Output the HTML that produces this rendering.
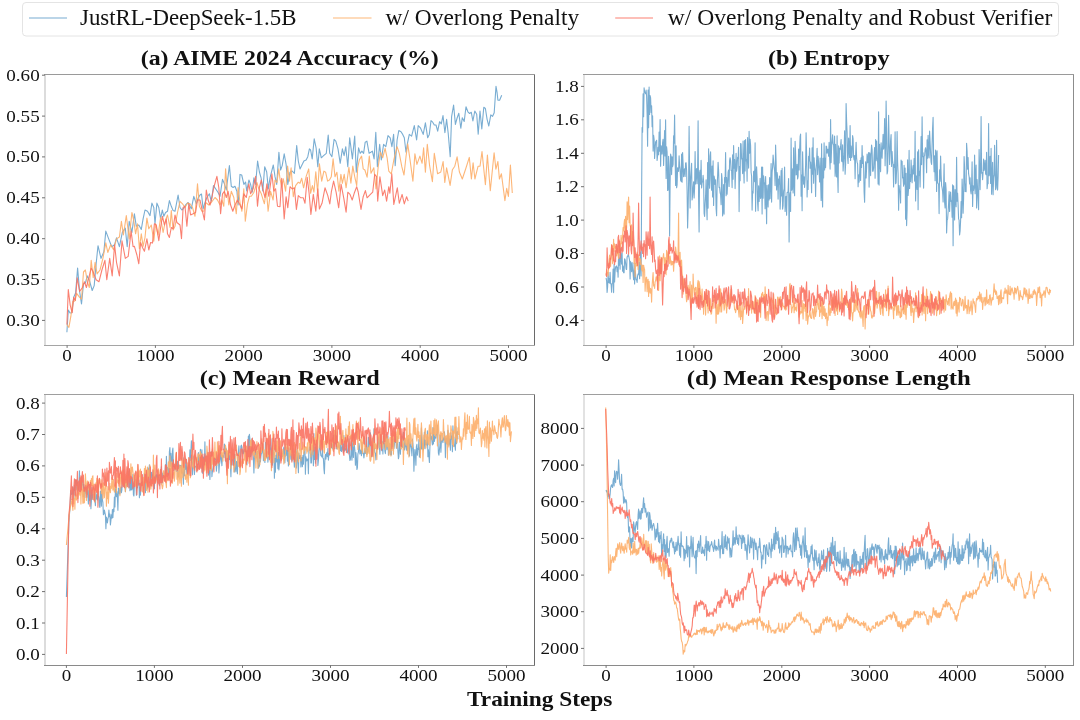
<!DOCTYPE html>
<html><head><meta charset="utf-8"><style>
html,body{margin:0;padding:0;background:#fff;width:1080px;height:720px;overflow:hidden;}
svg{display:block;will-change:transform;font-family:"Liberation Serif",serif;}
</style></head><body>
<svg width="1080" height="720" viewBox="0 0 1080 720" font-family="Liberation Serif, serif">
<rect width="1080" height="720" fill="#fff"/>
<defs>
<clipPath id="clipa"><rect x="45.0" y="74.5" width="489.4" height="270.8"/></clipPath>
<clipPath id="clipb"><rect x="584.0" y="74.5" width="489.6" height="270.8"/></clipPath>
<clipPath id="clipc"><rect x="45.0" y="394.4" width="489.4" height="270.9"/></clipPath>
<clipPath id="clipd"><rect x="584.0" y="394.4" width="489.6" height="270.9"/></clipPath>
</defs>
<path d="M66.9 332.3 L68.3 310.0 L70.0 313.0 L71.8 312.8 L73.7 297.3 L75.6 293.0 L77.6 268.1 L79.6 291.4 L81.5 304.0 L83.5 283.7 L85.4 283.0 L87.3 275.9 L89.3 280.0 L92.2 290.5 L94.2 285.6 L96.1 264.2 L98.0 245.7 L101.0 258.4 L103.9 251.6 L105.8 231.1 L108.7 238.9 L111.7 246.7 L114.6 244.7 L116.5 237.9 L119.4 246.7 L122.4 232.1 L125.3 228.2 L127.2 246.7 L129.2 221.4 L131.9 232.5 L134.4 213.8 L136.3 226.3 L138.8 225.0 L141.3 229.4 L143.1 218.8 L145.0 210.0 L147.5 211.3 L150.0 215.6 L151.9 203.1 L153.8 207.5 L155.0 223.8 L156.9 203.1 L158.8 207.5 L160.6 218.8 L162.3 210.0 L163.8 216.3 L165.6 212.5 L167.5 211.3 L169.4 200.6 L171.3 206.3 L173.1 210.6 L175.0 211.3 L178.1 195.0 L180.0 207.5 L181.9 210.0 L183.8 208.1 L185.6 205.0 L188.1 202.5 L191.3 208.8 L193.8 196.3 L196.3 203.8 L198.1 198.1 L200.0 195.0 L201.5 194.0 L203.1 208.8 L205.0 202.5 L206.9 197.5 L209.4 193.8 L211.3 201.3 L213.5 185.6 L215.6 188.8 L218.1 192.5 L220.0 196.3 L222.5 179.4 L224.4 183.8 L226.3 190.0 L229.4 165.6 L231.3 186.3 L233.1 187.5 L235.0 186.3 L236.9 191.3 L238.1 205.0 L240.0 174.4 L241.7 175.0 L243.9 184.4 L245.6 182.0 L246.7 191.0 L248.9 180.0 L250.6 184.4 L252.2 192.2 L253.9 177.8 L255.6 184.4 L257.6 161.0 L259.4 172.0 L261.1 177.8 L262.8 191.0 L264.7 166.7 L266.7 172.0 L268.3 188.9 L270.0 177.8 L273.3 165.0 L275.0 176.7 L276.7 184.4 L278.9 152.2 L280.6 170.0 L282.2 165.6 L284.2 153.9 L286.1 164.4 L287.8 184.4 L290.0 172.2 L292.2 171.1 L294.4 173.3 L296.7 145.6 L298.3 161.0 L300.0 168.9 L302.2 164.4 L303.9 161.0 L306.1 160.0 L307.8 156.7 L309.4 148.9 L310.6 150.0 L312.2 158.9 L314.2 138.9 L316.1 147.8 L317.8 166.7 L319.3 148.9 L321.3 157.8 L323.6 155.6 L326.3 153.3 L328.2 135.0 L329.7 153.3 L331.9 156.7 L334.1 139.4 L335.8 141.1 L338.0 148.9 L340.2 163.3 L342.4 148.9 L344.1 155.6 L345.8 146.7 L347.8 166.7 L349.7 137.8 L352.4 158.9 L354.7 136.1 L356.3 172.2 L358.6 147.8 L360.2 153.3 L361.9 151.1 L363.6 153.3 L365.2 142.2 L366.9 141.1 L369.1 153.3 L370.8 152.2 L372.4 151.1 L374.1 158.9 L375.8 132.2 L377.4 166.7 L379.7 144.4 L381.3 160.0 L383.6 144.4 L385.8 146.7 L388.0 135.6 L390.2 137.8 L391.9 146.7 L393.6 134.4 L395.2 165.6 L397.1 140.0 L398.8 130.6 L401.0 131.7 L402.7 134.4 L404.3 137.8 L406.0 152.2 L407.7 142.2 L409.3 134.4 L411.6 136.1 L414.3 125.6 L416.6 140.0 L418.2 125.6 L420.4 127.8 L423.2 134.4 L425.4 122.8 L427.7 137.8 L429.3 134.4 L431.0 120.6 L432.7 122.2 L434.3 125.0 L436.0 125.0 L437.7 131.1 L439.6 121.7 L441.3 123.9 L443.0 115.6 L444.9 132.8 L446.6 119.4 L448.2 133.3 L450.2 156.7 L451.6 116.7 L453.6 105.0 L455.4 124.4 L457.1 118.0 L458.8 113.3 L460.8 128.3 L462.3 117.7 L464.2 121.4 L466.0 106.8 L467.9 111.8 L469.6 113.5 L471.3 112.3 L472.9 121.0 L474.8 111.0 L476.7 114.3 L478.2 134.3 L480.0 111.0 L481.8 128.9 L483.8 107.3 L485.4 108.5 L487.1 119.3 L488.8 126.0 L490.8 114.8 L492.5 116.4 L494.2 112.7 L496.0 86.4 L497.1 92.7 L497.9 100.2 L499.6 100.2 L501.7 95.2" fill="none" stroke="#1f77b4" stroke-opacity="0.6" stroke-width="1.1" stroke-linejoin="round" clip-path="url(#clipa)"/>
<path d="M66.9 324.5 L68.9 327.4 L70.8 316.7 L72.8 301.2 L74.7 301.2 L76.6 293.4 L79.6 297.3 L81.5 299.2 L83.5 272.0 L85.4 270.0 L87.3 281.7 L89.3 287.5 L91.2 260.3 L93.2 277.8 L95.1 262.3 L97.1 273.9 L100.0 270.0 L102.9 258.4 L105.8 242.8 L107.8 252.5 L110.7 244.7 L113.6 249.6 L116.5 238.9 L119.4 237.0 L121.4 221.4 L123.4 235.0 L126.3 215.6 L129.2 238.9 L131.9 212.5 L133.7 220.0 L135.6 233.8 L137.5 223.8 L139.4 248.8 L141.3 233.8 L143.1 246.3 L145.0 237.5 L146.9 218.1 L148.8 228.8 L151.3 225.0 L153.8 241.3 L155.6 223.8 L156.9 230.0 L158.1 235.0 L160.6 217.5 L163.1 232.5 L165.6 220.0 L167.5 215.0 L170.0 227.5 L171.3 210.6 L173.1 230.0 L175.0 226.3 L177.5 212.5 L180.0 201.3 L182.5 203.8 L185.0 207.5 L187.5 203.1 L190.0 203.8 L192.5 207.5 L195.0 216.3 L197.5 183.8 L199.4 206.3 L201.9 211.3 L203.8 211.3 L205.6 202.5 L208.8 205.0 L211.3 202.5 L215.0 197.5 L217.5 200.0 L220.0 205.0 L221.9 200.0 L223.8 206.3 L225.6 168.8 L226.9 186.3 L228.8 205.0 L231.3 191.3 L233.8 197.5 L236.3 213.8 L238.1 187.5 L240.0 202.5 L241.9 211.3 L243.8 188.8 L245.3 221.3 L247.5 203.8 L249.4 196.3 L251.3 196.3 L253.8 192.5 L256.9 182.5 L258.8 188.8 L261.3 193.8 L264.4 203.8 L266.3 188.8 L268.1 211.3 L270.6 191.3 L273.1 200.0 L275.0 180.0 L276.9 182.5 L278.8 168.8 L280.0 178.9 L281.7 186.7 L283.3 178.9 L285.6 191.1 L287.6 166.1 L289.4 181.1 L291.1 167.8 L293.3 196.7 L295.6 185.6 L298.3 182.2 L300.0 183.3 L301.7 178.3 L303.6 187.8 L306.1 176.7 L308.7 168.9 L310.6 193.3 L312.4 185.6 L313.9 192.2 L315.8 171.7 L317.6 192.2 L319.4 163.9 L321.7 181.1 L323.9 171.1 L325.6 172.2 L327.6 181.1 L329.4 180.0 L331.3 176.7 L333.1 158.9 L335.0 176.7 L336.9 172.2 L338.9 191.1 L340.9 174.4 L342.4 183.3 L344.2 174.4 L346.1 187.8 L348.9 167.2 L350.9 183.3 L352.8 166.1 L354.7 176.7 L356.7 185.6 L357.7 167.8 L359.3 160.0 L361.6 156.1 L363.2 168.9 L364.9 170.0 L367.1 177.2 L369.3 156.1 L371.0 173.3 L373.8 167.8 L376.0 188.9 L378.2 166.7 L380.4 152.2 L382.7 157.8 L385.1 148.3 L387.1 157.8 L388.8 171.1 L391.3 173.9 L393.8 160.0 L397.1 146.7 L399.3 153.3 L401.8 166.7 L404.0 175.0 L406.0 156.7 L407.7 143.9 L409.9 158.9 L412.9 181.1 L414.9 153.9 L416.9 164.4 L419.9 156.1 L422.1 163.3 L423.6 147.8 L425.4 172.2 L427.3 144.4 L429.6 165.6 L432.4 181.7 L434.3 153.3 L437.6 173.8 L440.8 172.0 L443.1 161.5 L444.8 182.5 L446.6 167.9 L450.1 185.4 L452.4 169.7 L454.8 166.2 L457.1 156.8 L459.4 172.0 L462.3 179.0 L465.8 168.5 L469.3 157.4 L471.4 179.0 L473.1 162.7 L474.9 179.0 L478.1 166.2 L480.0 166.2 L482.0 151.6 L485.4 184.8 L487.4 155.1 L490.3 190.7 L494.1 152.8 L495.9 169.1 L497.9 161.5 L499.4 179.0 L501.4 173.8 L504.9 200.6 L506.7 188.3 L508.4 196.5 L510.4 165.0 L512.3 193.0" fill="none" stroke="#fdae69" stroke-opacity="0.9" stroke-width="1.1" stroke-linejoin="round" clip-path="url(#clipa)"/>
<path d="M66.9 324.5 L68.3 289.5 L70.2 305.1 L72.2 312.8 L73.7 297.3 L75.4 300.5 L77.2 277.8 L79.6 291.4 L82.5 287.5 L84.4 281.7 L86.4 287.5 L88.3 279.8 L91.2 268.1 L93.2 272.0 L96.1 279.8 L99.0 281.7 L101.9 270.0 L104.9 260.3 L106.8 279.8 L109.7 258.4 L112.2 275.9 L114.6 244.7 L116.5 262.3 L119.4 275.9 L122.0 240.9 L125.3 258.4 L128.2 256.4 L131.1 231.1 L133.1 246.7 L134.4 246.3 L136.9 255.0 L138.8 263.8 L140.6 242.5 L142.5 247.5 L144.4 251.3 L146.9 238.8 L148.8 250.0 L150.6 242.5 L152.5 243.1 L154.4 223.8 L156.3 225.0 L158.8 240.6 L160.6 227.5 L162.5 216.3 L164.4 225.0 L166.3 218.8 L167.5 233.8 L169.4 237.5 L171.3 227.5 L173.1 228.8 L175.0 215.0 L176.9 222.5 L180.0 225.0 L181.5 238.8 L183.1 207.5 L185.0 206.3 L186.9 226.3 L188.8 203.8 L190.6 215.0 L193.1 213.8 L195.6 212.5 L197.5 200.0 L200.0 200.0 L201.9 208.8 L204.4 220.0 L206.3 190.0 L208.1 200.0 L210.0 205.0 L211.9 197.5 L213.8 187.5 L216.9 176.3 L218.8 187.5 L220.6 213.8 L222.5 193.8 L224.4 191.3 L226.3 197.5 L228.1 191.3 L230.6 205.0 L232.8 211.3 L235.0 205.0 L237.5 200.0 L240.0 205.0 L241.9 208.8 L243.8 193.8 L246.3 197.5 L248.8 183.8 L250.6 193.8 L253.1 188.8 L255.6 176.3 L257.5 206.3 L259.4 187.5 L261.3 180.0 L263.1 190.0 L265.0 197.5 L266.9 183.8 L268.8 196.3 L271.9 173.8 L273.8 191.3 L275.6 188.8 L277.5 206.3 L280.0 206.7 L281.7 178.3 L284.2 218.9 L286.1 196.7 L287.8 207.8 L290.0 186.7 L292.2 188.9 L294.4 187.8 L296.4 209.4 L298.3 195.6 L300.8 197.8 L303.3 197.8 L305.0 203.3 L307.2 177.2 L309.1 193.3 L310.9 214.4 L313.3 194.4 L315.8 211.1 L317.8 188.9 L319.4 208.9 L322.0 203.3 L325.0 187.8 L327.8 195.6 L329.8 203.9 L331.3 192.2 L333.6 181.1 L336.1 192.2 L338.7 207.8 L341.1 184.4 L343.9 198.9 L346.1 212.2 L347.8 192.2 L350.0 194.4 L352.2 200.0 L354.2 193.3 L356.7 186.7 L358.2 192.0 L361.0 209.4 L363.2 196.7 L365.4 190.6 L367.1 197.8 L370.4 194.4 L372.7 192.2 L374.7 174.4 L376.6 176.7 L377.7 201.1 L379.9 176.7 L382.7 195.6 L384.7 190.0 L386.6 201.1 L388.8 186.7 L389.9 193.3 L391.8 173.9 L393.8 204.4 L397.3 187.8 L399.3 203.3 L402.1 194.4 L404.3 203.9 L406.6 196.7 L408.2 201.1" fill="none" stroke="#f97262" stroke-opacity="0.9" stroke-width="1.1" stroke-linejoin="round" clip-path="url(#clipa)"/>
<rect x="44" y="74" width="2" height="272" fill="#dcdcdc"/>
<rect x="534" y="74" width="1" height="272" fill="#6a6a6a"/>
<rect x="44" y="74" width="491" height="1" fill="#9a9a9a"/>
<rect x="44" y="345" width="491" height="1" fill="#a5a5a5"/>
<line x1="67.1" y1="345.3" x2="67.1" y2="347.9" stroke="#707070" stroke-width="1"/>
<text x="67.1" y="360.7" font-size="16.4" text-anchor="middle" textLength="9.5" lengthAdjust="spacingAndGlyphs" fill="#111">0</text>
<line x1="155.4" y1="345.3" x2="155.4" y2="347.9" stroke="#707070" stroke-width="1"/>
<text x="155.4" y="360.7" font-size="16.4" text-anchor="middle" textLength="38.2" lengthAdjust="spacingAndGlyphs" fill="#111">1000</text>
<line x1="243.7" y1="345.3" x2="243.7" y2="347.9" stroke="#707070" stroke-width="1"/>
<text x="243.7" y="360.7" font-size="16.4" text-anchor="middle" textLength="38.2" lengthAdjust="spacingAndGlyphs" fill="#111">2000</text>
<line x1="331.9" y1="345.3" x2="331.9" y2="347.9" stroke="#707070" stroke-width="1"/>
<text x="331.9" y="360.7" font-size="16.4" text-anchor="middle" textLength="38.2" lengthAdjust="spacingAndGlyphs" fill="#111">3000</text>
<line x1="420.2" y1="345.3" x2="420.2" y2="347.9" stroke="#707070" stroke-width="1"/>
<text x="420.2" y="360.7" font-size="16.4" text-anchor="middle" textLength="38.2" lengthAdjust="spacingAndGlyphs" fill="#111">4000</text>
<line x1="508.5" y1="345.3" x2="508.5" y2="347.9" stroke="#707070" stroke-width="1"/>
<text x="508.5" y="360.7" font-size="16.4" text-anchor="middle" textLength="38.2" lengthAdjust="spacingAndGlyphs" fill="#111">5000</text>
<line x1="42.0" y1="320.4" x2="45.0" y2="320.4" stroke="#707070" stroke-width="1"/>
<text x="39.7" y="325.9" font-size="16.4" text-anchor="end" textLength="33.4" lengthAdjust="spacingAndGlyphs" fill="#111">0.30</text>
<line x1="42.0" y1="279.5" x2="45.0" y2="279.5" stroke="#707070" stroke-width="1"/>
<text x="39.7" y="285.0" font-size="16.4" text-anchor="end" textLength="33.4" lengthAdjust="spacingAndGlyphs" fill="#111">0.35</text>
<line x1="42.0" y1="238.7" x2="45.0" y2="238.7" stroke="#707070" stroke-width="1"/>
<text x="39.7" y="244.2" font-size="16.4" text-anchor="end" textLength="33.4" lengthAdjust="spacingAndGlyphs" fill="#111">0.40</text>
<line x1="42.0" y1="197.8" x2="45.0" y2="197.8" stroke="#707070" stroke-width="1"/>
<text x="39.7" y="203.3" font-size="16.4" text-anchor="end" textLength="33.4" lengthAdjust="spacingAndGlyphs" fill="#111">0.45</text>
<line x1="42.0" y1="156.9" x2="45.0" y2="156.9" stroke="#707070" stroke-width="1"/>
<text x="39.7" y="162.4" font-size="16.4" text-anchor="end" textLength="33.4" lengthAdjust="spacingAndGlyphs" fill="#111">0.50</text>
<line x1="42.0" y1="116.1" x2="45.0" y2="116.1" stroke="#707070" stroke-width="1"/>
<text x="39.7" y="121.6" font-size="16.4" text-anchor="end" textLength="33.4" lengthAdjust="spacingAndGlyphs" fill="#111">0.55</text>
<line x1="42.0" y1="75.2" x2="45.0" y2="75.2" stroke="#707070" stroke-width="1"/>
<text x="39.7" y="80.7" font-size="16.4" text-anchor="end" textLength="33.4" lengthAdjust="spacingAndGlyphs" fill="#111">0.60</text>
<text x="289.7" y="65.0" font-size="21.5" text-anchor="middle" font-weight="bold" textLength="298.0" lengthAdjust="spacingAndGlyphs" fill="#111">(a) AIME 2024 Accuracy (%)</text>
<path d="M606.1 277.8 L606.6 280.8 L607.1 292.5 L607.6 286.9 L608.1 272.3 L608.6 282.6 L609.1 278.5 L609.6 283.3 L610.1 272.4 L610.6 283.7 L611.1 283.7 L611.6 292.3 L612.1 283.6 L612.6 283.1 L613.1 269.1 L613.6 292.6 L614.1 264.3 L614.6 282.0 L615.1 271.8 L615.6 266.8 L616.1 267.1 L616.6 265.9 L617.1 271.8 L617.6 267.2 L618.1 277.1 L618.6 253.3 L619.1 265.2 L619.6 258.0 L620.1 269.2 L620.6 247.3 L621.1 259.0 L621.6 264.1 L622.1 253.1 L622.6 271.3 L623.1 266.1 L623.6 272.7 L624.1 272.7 L624.6 258.8 L625.1 259.7 L625.6 263.3 L626.1 269.0 L626.6 269.5 L627.1 256.8 L627.6 256.7 L628.1 254.5 L628.6 255.4 L629.1 257.8 L629.6 260.5 L630.1 279.0 L630.6 261.6 L631.1 264.6 L631.6 271.6 L632.1 262.6 L632.6 269.2 L633.1 273.8 L633.6 279.7 L634.1 263.0 L634.6 283.9 L635.1 270.7 L635.6 274.2 L636.1 279.8 L636.6 279.7 L637.1 282.4 L637.6 275.7 L638.1 273.9 L638.6 274.7 L639.1 262.2 L639.6 278.7 L640.1 261.1 L640.6 252.1 L641.1 275.9 L641.6 197.2 L642.1 127.6 L642.6 132.3 L643.1 93.7 L643.6 116.8 L644.1 87.7 L644.6 91.9 L645.1 92.3 L645.6 93.8 L646.1 90.0 L646.6 96.2 L647.1 114.1 L647.6 146.2 L648.1 90.0 L648.6 127.8 L649.1 87.0 L649.6 114.5 L650.1 95.5 L650.6 97.8 L651.1 112.4 L651.6 105.8 L652.1 126.7 L652.6 115.9 L653.1 151.1 L653.6 135.4 L654.1 139.2 L654.6 158.4 L655.1 149.6 L655.6 141.7 L656.1 141.4 L656.6 140.3 L657.1 160.5 L657.6 155.6 L658.1 147.2 L658.6 154.8 L659.1 132.1 L659.6 151.1 L660.1 119.5 L660.6 166.2 L661.1 145.7 L661.6 148.1 L662.1 154.1 L662.6 142.7 L663.1 139.2 L663.6 165.5 L664.1 147.9 L664.6 130.5 L665.1 155.9 L665.6 119.8 L666.1 178.4 L666.6 146.9 L667.1 152.1 L667.6 190.5 L668.1 190.1 L668.6 156.3 L669.1 167.0 L669.6 236.0 L670.1 184.7 L670.6 154.0 L671.1 156.6 L671.6 174.6 L672.1 156.9 L672.6 166.6 L673.1 164.4 L673.6 135.7 L674.1 143.2 L674.6 115.1 L675.1 156.9 L675.6 185.5 L676.1 145.8 L676.6 187.8 L677.1 185.0 L677.6 167.7 L678.1 169.5 L678.6 171.4 L679.1 155.8 L679.6 165.8 L680.1 169.3 L680.6 180.2 L681.1 181.4 L681.6 154.0 L682.1 182.2 L682.6 152.6 L683.1 164.2 L683.6 176.8 L684.1 171.0 L684.6 168.7 L685.1 176.5 L685.6 163.0 L686.1 162.8 L686.6 170.7 L687.1 191.7 L687.6 228.0 L688.1 209.7 L688.6 181.3 L689.1 126.2 L689.6 171.5 L690.1 207.9 L690.6 179.4 L691.1 171.6 L691.6 163.3 L692.1 200.0 L692.6 195.2 L693.1 187.1 L693.6 181.7 L694.1 198.0 L694.6 187.9 L695.1 151.5 L695.6 183.9 L696.1 172.4 L696.6 168.6 L697.1 183.7 L697.6 171.5 L698.1 120.8 L698.6 199.0 L699.1 232.0 L699.6 172.5 L700.1 170.2 L700.6 184.2 L701.1 160.4 L701.6 188.0 L702.1 182.6 L702.6 181.8 L703.1 175.2 L703.6 181.6 L704.1 213.1 L704.6 216.5 L705.1 204.5 L705.6 195.4 L706.1 179.7 L706.6 206.3 L707.1 219.8 L707.6 162.6 L708.1 208.1 L708.6 148.8 L709.1 178.3 L709.6 188.3 L710.1 156.1 L710.6 151.7 L711.1 179.3 L711.6 190.2 L712.1 166.1 L712.6 197.0 L713.1 160.9 L713.6 205.4 L714.1 176.1 L714.6 179.1 L715.1 184.5 L715.6 179.7 L716.1 208.4 L716.6 215.8 L717.1 187.1 L717.6 176.5 L718.1 162.3 L718.6 170.5 L719.1 187.4 L719.6 187.2 L720.1 192.6 L720.6 194.6 L721.1 204.6 L721.6 173.6 L722.1 179.4 L722.6 215.9 L723.1 210.6 L723.6 184.5 L724.1 214.1 L724.6 177.5 L725.1 182.2 L725.6 152.5 L726.1 195.8 L726.6 177.6 L727.1 194.1 L727.6 185.2 L728.1 172.1 L728.6 170.0 L729.1 186.4 L729.6 160.3 L730.1 157.7 L730.6 160.7 L731.1 170.5 L731.6 170.7 L732.1 187.6 L732.6 154.7 L733.1 179.2 L733.6 145.5 L734.1 168.1 L734.6 159.6 L735.1 188.6 L735.6 171.1 L736.1 153.2 L736.6 171.2 L737.1 167.0 L737.6 157.2 L738.1 158.1 L738.6 147.3 L739.1 211.6 L739.6 166.5 L740.1 180.8 L740.6 143.5 L741.1 143.9 L741.6 159.0 L742.1 158.8 L742.6 173.6 L743.1 141.0 L743.6 167.5 L744.1 183.0 L744.6 140.6 L745.1 171.0 L745.6 139.5 L746.1 161.0 L746.6 159.7 L747.1 181.2 L747.6 137.5 L748.1 152.5 L748.6 168.1 L749.1 131.2 L749.6 153.3 L750.1 139.3 L750.6 145.8 L751.1 172.2 L751.6 176.2 L752.1 210.1 L752.6 191.4 L753.1 193.1 L753.6 171.5 L754.1 171.1 L754.6 181.7 L755.1 142.7 L755.6 211.3 L756.1 173.6 L756.6 166.7 L757.1 178.6 L757.6 202.6 L758.1 210.8 L758.6 185.7 L759.1 201.5 L759.6 193.6 L760.1 178.4 L760.6 198.5 L761.1 195.1 L761.6 167.1 L762.1 213.9 L762.6 167.1 L763.1 198.2 L763.6 175.8 L764.1 181.4 L764.6 184.3 L765.1 208.8 L765.6 176.5 L766.1 194.2 L766.6 223.7 L767.1 185.2 L767.6 196.7 L768.1 206.9 L768.6 184.8 L769.1 199.9 L769.6 177.5 L770.1 198.6 L770.6 184.7 L771.1 163.6 L771.6 202.1 L772.1 172.9 L772.6 166.7 L773.1 155.1 L773.6 161.1 L774.1 167.0 L774.6 170.7 L775.1 185.6 L775.6 145.1 L776.1 161.4 L776.6 190.0 L777.1 172.6 L777.6 176.3 L778.1 199.1 L778.6 179.1 L779.1 184.1 L779.6 176.1 L780.1 209.1 L780.6 199.1 L781.1 170.5 L781.6 195.9 L782.1 168.3 L782.6 209.1 L783.1 205.6 L783.6 191.2 L784.1 188.7 L784.6 167.1 L785.1 211.5 L785.6 199.4 L786.1 196.3 L786.6 215.3 L787.1 192.5 L787.6 192.4 L788.1 191.6 L788.6 178.5 L789.1 242.0 L789.6 196.8 L790.1 192.6 L790.6 211.5 L791.1 138.0 L791.6 190.3 L792.1 188.5 L792.6 168.9 L793.1 193.0 L793.6 147.9 L794.1 181.5 L794.6 195.8 L795.1 141.3 L795.6 154.1 L796.1 174.9 L796.6 174.4 L797.1 164.3 L797.6 179.0 L798.1 176.4 L798.6 149.1 L799.1 169.9 L799.6 150.5 L800.1 136.7 L800.6 134.1 L801.1 196.3 L801.6 175.0 L802.1 210.7 L802.6 151.8 L803.1 172.1 L803.6 184.1 L804.1 176.7 L804.6 187.5 L805.1 179.8 L805.6 165.4 L806.1 132.7 L806.6 154.4 L807.1 197.0 L807.6 181.0 L808.1 189.5 L808.6 156.3 L809.1 161.0 L809.6 148.0 L810.1 168.3 L810.6 162.0 L811.1 169.3 L811.6 192.8 L812.1 147.7 L812.6 174.3 L813.1 137.8 L813.6 183.3 L814.1 157.9 L814.6 167.0 L815.1 170.8 L815.6 196.4 L816.1 168.8 L816.6 160.9 L817.1 148.2 L817.6 174.6 L818.1 156.2 L818.6 162.7 L819.1 171.0 L819.6 181.9 L820.1 158.1 L820.6 181.7 L821.1 200.4 L821.6 143.8 L822.1 193.8 L822.6 206.9 L823.1 158.3 L823.6 177.9 L824.1 142.7 L824.6 169.9 L825.1 158.3 L825.6 167.6 L826.1 146.1 L826.6 146.6 L827.1 153.2 L827.6 149.3 L828.1 149.3 L828.6 156.3 L829.1 142.4 L829.6 157.2 L830.1 169.1 L830.6 119.6 L831.1 162.6 L831.6 147.3 L832.1 140.6 L832.6 134.9 L833.1 143.6 L833.6 145.1 L834.1 163.9 L834.6 136.1 L835.1 176.3 L835.6 144.2 L836.1 169.9 L836.6 176.9 L837.1 135.7 L837.6 174.5 L838.1 192.5 L838.6 145.9 L839.1 163.0 L839.6 148.3 L840.1 149.7 L840.6 145.9 L841.1 139.6 L841.6 161.1 L842.1 161.6 L842.6 144.9 L843.1 170.9 L843.6 161.4 L844.1 153.9 L844.6 130.8 L845.1 174.3 L845.6 164.1 L846.1 103.5 L846.6 121.1 L847.1 132.5 L847.6 157.3 L848.1 163.4 L848.6 138.1 L849.1 148.3 L849.6 157.4 L850.1 125.6 L850.6 160.4 L851.1 146.1 L851.6 157.5 L852.1 156.0 L852.6 135.5 L853.1 138.9 L853.6 157.0 L854.1 160.0 L854.6 155.5 L855.1 178.7 L855.6 155.7 L856.1 142.3 L856.6 158.1 L857.1 162.3 L857.6 163.9 L858.1 186.8 L858.6 174.8 L859.1 182.1 L859.6 173.6 L860.1 160.2 L860.6 180.4 L861.1 157.7 L861.6 167.5 L862.1 145.5 L862.6 163.5 L863.1 156.1 L863.6 166.8 L864.1 191.7 L864.6 202.3 L865.1 178.8 L865.6 161.9 L866.1 177.9 L866.6 168.1 L867.1 154.0 L867.6 162.8 L868.1 159.3 L868.6 152.6 L869.1 187.1 L869.6 152.7 L870.1 154.3 L870.6 175.6 L871.1 152.9 L871.6 145.0 L872.1 149.2 L872.6 171.2 L873.1 171.1 L873.6 168.1 L874.1 155.5 L874.6 147.5 L875.1 178.2 L875.6 139.5 L876.1 160.7 L876.6 141.0 L877.1 157.5 L877.6 161.6 L878.1 183.9 L878.6 111.9 L879.1 185.1 L879.6 144.3 L880.1 163.1 L880.6 171.6 L881.1 142.7 L881.6 152.1 L882.1 158.2 L882.6 145.8 L883.1 134.3 L883.6 149.1 L884.1 146.1 L884.6 118.6 L885.1 165.8 L885.6 147.8 L886.1 101.1 L886.6 129.3 L887.1 174.0 L887.6 171.4 L888.1 148.1 L888.6 115.3 L889.1 140.7 L889.6 164.4 L890.1 153.0 L890.6 140.6 L891.1 134.6 L891.6 166.5 L892.1 151.5 L892.6 161.2 L893.1 164.3 L893.6 187.0 L894.1 164.6 L894.6 167.4 L895.1 131.7 L895.6 183.8 L896.1 182.7 L896.6 169.4 L897.1 131.5 L897.6 161.6 L898.1 174.0 L898.6 210.3 L899.1 185.5 L899.6 191.0 L900.1 192.3 L900.6 203.0 L901.1 160.1 L901.6 163.9 L902.1 161.2 L902.6 178.0 L903.1 177.6 L903.6 186.1 L904.1 165.4 L904.6 184.1 L905.1 168.1 L905.6 219.3 L906.1 173.3 L906.6 225.6 L907.1 209.9 L907.6 159.7 L908.1 195.5 L908.6 188.5 L909.1 150.4 L909.6 188.4 L910.1 174.9 L910.6 181.4 L911.1 160.1 L911.6 172.3 L912.1 182.7 L912.6 170.3 L913.1 165.5 L913.6 174.0 L914.1 158.6 L914.6 181.1 L915.1 131.2 L915.6 200.9 L916.1 175.7 L916.6 183.7 L917.1 189.5 L917.6 151.7 L918.1 209.7 L918.6 149.8 L919.1 175.5 L919.6 171.3 L920.1 187.0 L920.6 162.3 L921.1 136.6 L921.6 164.6 L922.1 116.9 L922.6 156.7 L923.1 152.7 L923.6 188.1 L924.1 156.5 L924.6 155.8 L925.1 149.7 L925.6 147.7 L926.1 152.3 L926.6 172.8 L927.1 139.8 L927.6 158.3 L928.1 135.3 L928.6 153.8 L929.1 157.9 L929.6 131.0 L930.1 142.6 L930.6 153.2 L931.1 162.1 L931.6 164.4 L932.1 144.3 L932.6 127.8 L933.1 117.4 L933.6 158.6 L934.1 171.8 L934.6 155.9 L935.1 180.8 L935.6 150.0 L936.1 154.0 L936.6 191.4 L937.1 150.7 L937.6 182.6 L938.1 183.5 L938.6 184.1 L939.1 213.6 L939.6 169.7 L940.1 181.2 L940.6 156.0 L941.1 174.6 L941.6 185.6 L942.1 187.8 L942.6 191.3 L943.1 201.9 L943.6 185.7 L944.1 163.9 L944.6 202.1 L945.1 208.0 L945.6 182.6 L946.1 189.2 L946.6 233.0 L947.1 220.0 L947.6 218.9 L948.1 212.3 L948.6 203.6 L949.1 191.6 L949.6 211.4 L950.1 198.1 L950.6 192.1 L951.1 201.5 L951.6 200.7 L952.1 217.3 L952.6 184.9 L953.1 245.7 L953.6 185.7 L954.1 196.0 L954.6 220.0 L955.1 189.6 L955.6 196.7 L956.1 206.8 L956.6 157.2 L957.1 201.3 L957.6 193.3 L958.1 204.8 L958.6 218.9 L959.1 220.1 L959.6 235.0 L960.1 231.0 L960.6 220.7 L961.1 201.5 L961.6 217.7 L962.1 179.0 L962.6 192.0 L963.1 213.3 L963.6 198.5 L964.1 156.6 L964.6 167.8 L965.1 191.4 L965.6 184.3 L966.1 191.8 L966.6 143.2 L967.1 151.5 L967.6 169.2 L968.1 157.6 L968.6 173.9 L969.1 176.6 L969.6 184.0 L970.1 177.7 L970.6 190.6 L971.1 193.9 L971.6 184.8 L972.1 161.9 L972.6 206.4 L973.1 185.9 L973.6 190.5 L974.1 186.9 L974.6 155.1 L975.1 193.8 L975.6 174.8 L976.1 165.0 L976.6 207.9 L977.1 179.6 L977.6 189.5 L978.1 199.4 L978.6 209.6 L979.1 149.5 L979.6 166.8 L980.1 189.6 L980.6 164.1 L981.1 116.5 L981.6 173.3 L982.1 172.4 L982.6 179.6 L983.1 171.8 L983.6 159.1 L984.1 170.4 L984.6 167.3 L985.1 160.2 L985.6 173.7 L986.1 174.8 L986.6 152.3 L987.1 188.8 L987.6 183.3 L988.1 183.7 L988.6 123.6 L989.1 175.8 L989.6 172.3 L990.1 156.4 L990.6 183.5 L991.1 148.4 L991.6 194.3 L992.1 178.4 L992.6 162.2 L993.1 194.7 L993.6 177.7 L994.1 174.5 L994.6 145.2 L995.1 175.6 L995.6 189.8 L996.1 183.1 L996.6 140.3 L997.1 187.9 L997.6 190.1 L998.1 177.3 L998.6 155.0" fill="none" stroke="#1f77b4" stroke-opacity="0.6" stroke-width="1.1" stroke-linejoin="round" clip-path="url(#clipb)"/>
<path d="M606.1 275.9 L606.6 269.4 L607.1 272.3 L607.6 273.5 L608.1 276.0 L608.6 266.7 L609.1 259.5 L609.6 255.1 L610.1 262.7 L610.6 266.5 L611.1 255.1 L611.6 244.5 L612.1 246.1 L612.6 263.6 L613.1 253.0 L613.6 239.4 L614.1 251.3 L614.6 243.8 L615.1 247.4 L615.6 248.3 L616.1 246.1 L616.6 255.9 L617.1 251.8 L617.6 248.1 L618.1 255.4 L618.6 258.6 L619.1 239.9 L619.6 250.6 L620.1 243.9 L620.6 247.4 L621.1 235.2 L621.6 243.8 L622.1 240.6 L622.6 236.0 L623.1 227.6 L623.6 230.9 L624.1 223.4 L624.6 219.2 L625.1 231.0 L625.6 216.3 L626.1 234.4 L626.6 227.7 L627.1 201.8 L627.6 219.6 L628.1 206.6 L628.6 197.0 L629.1 222.7 L629.6 206.0 L630.1 225.1 L630.6 227.5 L631.1 241.1 L631.6 224.8 L632.1 245.3 L632.6 231.6 L633.1 242.2 L633.6 239.7 L634.1 263.5 L634.6 257.4 L635.1 277.0 L635.6 263.3 L636.1 266.1 L636.6 265.4 L637.1 252.1 L637.6 256.8 L638.1 269.5 L638.6 254.7 L639.1 260.3 L639.6 258.4 L640.1 264.6 L640.6 258.8 L641.1 263.4 L641.6 269.6 L642.1 270.9 L642.6 265.0 L643.1 282.5 L643.6 265.2 L644.1 268.0 L644.6 269.6 L645.1 291.3 L645.6 281.7 L646.1 277.5 L646.6 277.2 L647.1 291.8 L647.6 280.3 L648.1 279.3 L648.6 296.5 L649.1 281.3 L649.6 290.2 L650.1 293.2 L650.6 288.3 L651.1 290.6 L651.6 302.1 L652.1 285.8 L652.6 278.7 L653.1 272.5 L653.6 286.0 L654.1 284.7 L654.6 288.5 L655.1 281.9 L655.6 280.6 L656.1 276.8 L656.6 277.0 L657.1 281.2 L657.6 275.0 L658.1 277.9 L658.6 290.5 L659.1 275.6 L659.6 255.8 L660.1 280.8 L660.6 268.1 L661.1 257.4 L661.6 271.7 L662.1 263.6 L662.6 257.9 L663.1 257.2 L663.6 253.6 L664.1 261.1 L664.6 268.8 L665.1 257.6 L665.6 263.6 L666.1 274.7 L666.6 250.4 L667.1 262.3 L667.6 257.6 L668.1 251.6 L668.6 252.0 L669.1 260.1 L669.6 263.6 L670.1 256.1 L670.6 260.3 L671.1 265.1 L671.6 261.0 L672.1 264.6 L672.6 261.6 L673.1 261.5 L673.6 271.1 L674.1 261.2 L674.6 257.4 L675.1 261.0 L675.6 247.1 L676.1 251.1 L676.6 258.6 L677.1 256.5 L677.6 262.3 L678.1 249.9 L678.6 213.0 L679.1 264.4 L679.6 263.0 L680.1 252.4 L680.6 275.5 L681.1 269.6 L681.6 260.0 L682.1 274.2 L682.6 276.1 L683.1 294.1 L683.6 278.8 L684.1 285.4 L684.6 287.6 L685.1 287.7 L685.6 286.0 L686.1 296.4 L686.6 301.8 L687.1 298.3 L687.6 287.5 L688.1 285.4 L688.6 294.6 L689.1 288.2 L689.6 289.3 L690.1 281.6 L690.6 307.7 L691.1 299.6 L691.6 285.1 L692.1 298.4 L692.6 301.7 L693.1 274.1 L693.6 287.6 L694.1 288.3 L694.6 295.0 L695.1 288.9 L695.6 287.2 L696.1 287.7 L696.6 300.8 L697.1 303.2 L697.6 283.9 L698.1 280.2 L698.6 306.7 L699.1 281.6 L699.6 284.8 L700.1 289.4 L700.6 293.8 L701.1 299.7 L701.6 296.7 L702.1 289.0 L702.6 300.0 L703.1 300.6 L703.6 314.2 L704.1 301.6 L704.6 293.3 L705.1 297.3 L705.6 315.1 L706.1 300.8 L706.6 289.6 L707.1 300.6 L707.6 304.6 L708.1 312.9 L708.6 296.5 L709.1 308.4 L709.6 308.9 L710.1 298.4 L710.6 300.9 L711.1 314.3 L711.6 313.2 L712.1 307.1 L712.6 303.4 L713.1 308.4 L713.6 300.1 L714.1 300.7 L714.6 295.7 L715.1 302.6 L715.6 302.8 L716.1 323.3 L716.6 302.3 L717.1 313.1 L717.6 314.2 L718.1 304.2 L718.6 313.9 L719.1 290.0 L719.6 306.5 L720.1 312.0 L720.6 288.7 L721.1 296.6 L721.6 312.0 L722.1 302.3 L722.6 297.0 L723.1 302.3 L723.6 301.4 L724.1 310.2 L724.6 307.8 L725.1 302.8 L725.6 299.5 L726.1 303.3 L726.6 313.0 L727.1 305.1 L727.6 306.5 L728.1 301.0 L728.6 292.6 L729.1 296.1 L729.6 305.4 L730.1 301.1 L730.6 294.1 L731.1 289.4 L731.6 301.6 L732.1 298.3 L732.6 298.4 L733.1 298.9 L733.6 303.2 L734.1 304.0 L734.6 309.7 L735.1 309.3 L735.6 312.7 L736.1 309.8 L736.6 303.2 L737.1 305.4 L737.6 309.7 L738.1 305.2 L738.6 312.2 L739.1 317.2 L739.6 304.1 L740.1 298.0 L740.6 319.6 L741.1 311.4 L741.6 316.4 L742.1 302.2 L742.6 323.4 L743.1 316.3 L743.6 309.3 L744.1 307.0 L744.6 309.3 L745.1 306.5 L745.6 305.5 L746.1 298.3 L746.6 314.1 L747.1 305.1 L747.6 305.9 L748.1 306.1 L748.6 288.5 L749.1 309.4 L749.6 304.4 L750.1 304.6 L750.6 307.6 L751.1 300.3 L751.6 313.1 L752.1 302.7 L752.6 301.3 L753.1 301.9 L753.6 308.8 L754.1 313.0 L754.6 303.4 L755.1 295.5 L755.6 313.4 L756.1 298.4 L756.6 313.8 L757.1 305.0 L757.6 299.8 L758.1 300.0 L758.6 307.2 L759.1 309.2 L759.6 301.7 L760.1 309.8 L760.6 317.2 L761.1 300.8 L761.6 293.9 L762.1 295.0 L762.6 292.2 L763.1 298.1 L763.6 298.0 L764.1 294.5 L764.6 307.7 L765.1 286.9 L765.6 296.8 L766.1 320.5 L766.6 314.4 L767.1 311.9 L767.6 311.5 L768.1 320.7 L768.6 312.0 L769.1 307.9 L769.6 298.5 L770.1 305.6 L770.6 300.0 L771.1 299.5 L771.6 298.0 L772.1 302.1 L772.6 300.4 L773.1 308.7 L773.6 293.9 L774.1 302.0 L774.6 316.9 L775.1 305.1 L775.6 313.3 L776.1 312.9 L776.6 314.7 L777.1 311.2 L777.6 297.1 L778.1 305.1 L778.6 304.8 L779.1 297.1 L779.6 305.2 L780.1 299.5 L780.6 296.7 L781.1 310.0 L781.6 308.5 L782.1 304.5 L782.6 302.8 L783.1 305.8 L783.6 306.7 L784.1 306.5 L784.6 309.1 L785.1 305.7 L785.6 310.1 L786.1 309.8 L786.6 307.4 L787.1 299.2 L787.6 298.9 L788.1 306.0 L788.6 300.9 L789.1 301.6 L789.6 284.7 L790.1 283.4 L790.6 304.3 L791.1 304.7 L791.6 312.7 L792.1 309.1 L792.6 306.9 L793.1 306.5 L793.6 296.7 L794.1 312.8 L794.6 302.8 L795.1 310.2 L795.6 307.9 L796.1 307.4 L796.6 311.1 L797.1 301.6 L797.6 301.8 L798.1 299.2 L798.6 302.8 L799.1 317.1 L799.6 303.5 L800.1 314.2 L800.6 311.9 L801.1 311.5 L801.6 313.0 L802.1 300.6 L802.6 310.2 L803.1 318.9 L803.6 303.5 L804.1 308.3 L804.6 304.2 L805.1 311.1 L805.6 302.4 L806.1 320.6 L806.6 308.0 L807.1 301.0 L807.6 324.3 L808.1 319.1 L808.6 315.7 L809.1 316.3 L809.6 311.0 L810.1 311.4 L810.6 317.5 L811.1 318.3 L811.6 318.5 L812.1 313.0 L812.6 308.5 L813.1 309.5 L813.6 317.6 L814.1 319.2 L814.6 306.7 L815.1 305.1 L815.6 316.5 L816.1 312.4 L816.6 311.4 L817.1 298.3 L817.6 304.6 L818.1 303.8 L818.6 309.1 L819.1 296.3 L819.6 316.5 L820.1 310.4 L820.6 312.1 L821.1 301.5 L821.6 309.0 L822.1 318.6 L822.6 299.4 L823.1 312.8 L823.6 315.5 L824.1 306.2 L824.6 316.1 L825.1 308.8 L825.6 318.8 L826.1 315.0 L826.6 313.1 L827.1 325.6 L827.6 317.2 L828.1 320.3 L828.6 303.9 L829.1 306.5 L829.6 315.3 L830.1 315.5 L830.6 308.2 L831.1 312.8 L831.6 299.7 L832.1 307.2 L832.6 297.5 L833.1 306.9 L833.6 301.4 L834.1 299.8 L834.6 304.4 L835.1 315.5 L835.6 296.3 L836.1 299.6 L836.6 310.9 L837.1 300.3 L837.6 314.5 L838.1 303.3 L838.6 301.8 L839.1 302.9 L839.6 311.6 L840.1 304.0 L840.6 302.4 L841.1 300.6 L841.6 289.0 L842.1 293.0 L842.6 308.6 L843.1 304.5 L843.6 302.3 L844.1 303.9 L844.6 296.2 L845.1 302.9 L845.6 295.9 L846.1 305.4 L846.6 298.8 L847.1 302.5 L847.6 307.5 L848.1 302.5 L848.6 309.7 L849.1 309.2 L849.6 309.1 L850.1 316.2 L850.6 298.4 L851.1 297.4 L851.6 311.8 L852.1 314.2 L852.6 321.0 L853.1 312.2 L853.6 312.3 L854.1 300.9 L854.6 311.2 L855.1 311.1 L855.6 299.9 L856.1 301.3 L856.6 307.4 L857.1 310.0 L857.6 288.6 L858.1 309.6 L858.6 312.1 L859.1 311.2 L859.6 314.5 L860.1 316.9 L860.6 307.8 L861.1 318.1 L861.6 314.7 L862.1 310.8 L862.6 318.2 L863.1 326.5 L863.6 307.7 L864.1 305.7 L864.6 305.6 L865.1 329.0 L865.6 314.0 L866.1 314.7 L866.6 309.4 L867.1 307.6 L867.6 300.0 L868.1 314.3 L868.6 314.5 L869.1 299.4 L869.6 305.4 L870.1 306.5 L870.6 310.7 L871.1 311.9 L871.6 317.4 L872.1 318.1 L872.6 315.6 L873.1 316.7 L873.6 300.2 L874.1 303.0 L874.6 313.4 L875.1 307.2 L875.6 304.6 L876.1 291.2 L876.6 291.9 L877.1 308.1 L877.6 305.0 L878.1 301.2 L878.6 300.6 L879.1 292.2 L879.6 306.2 L880.1 310.7 L880.6 314.5 L881.1 304.3 L881.6 303.2 L882.1 297.8 L882.6 313.2 L883.1 315.7 L883.6 301.0 L884.1 307.2 L884.6 306.2 L885.1 302.3 L885.6 289.8 L886.1 304.0 L886.6 310.8 L887.1 298.3 L887.6 302.3 L888.1 286.1 L888.6 315.6 L889.1 310.8 L889.6 308.4 L890.1 306.4 L890.6 304.7 L891.1 308.0 L891.6 306.7 L892.1 306.6 L892.6 307.9 L893.1 309.7 L893.6 318.8 L894.1 299.8 L894.6 310.2 L895.1 305.3 L895.6 303.0 L896.1 295.6 L896.6 315.2 L897.1 305.3 L897.6 307.3 L898.1 315.1 L898.6 305.6 L899.1 312.7 L899.6 311.7 L900.1 317.6 L900.6 317.8 L901.1 305.8 L901.6 316.5 L902.1 309.5 L902.6 310.0 L903.1 307.9 L903.6 313.6 L904.1 300.4 L904.6 309.7 L905.1 314.6 L905.6 304.5 L906.1 319.2 L906.6 301.4 L907.1 307.4 L907.6 302.6 L908.1 301.3 L908.6 297.8 L909.1 301.5 L909.6 304.7 L910.1 300.9 L910.6 311.2 L911.1 315.8 L911.6 297.0 L912.1 312.1 L912.6 308.5 L913.1 308.4 L913.6 322.5 L914.1 314.4 L914.6 309.0 L915.1 307.8 L915.6 292.8 L916.1 311.8 L916.6 301.4 L917.1 307.5 L917.6 307.5 L918.1 311.8 L918.6 317.8 L919.1 311.0 L919.6 312.6 L920.1 302.4 L920.6 306.5 L921.1 308.6 L921.6 294.5 L922.1 314.9 L922.6 297.3 L923.1 293.1 L923.6 310.9 L924.1 313.6 L924.6 296.0 L925.1 297.3 L925.6 320.8 L926.1 302.4 L926.6 289.1 L927.1 297.3 L927.6 313.6 L928.1 304.7 L928.6 305.8 L929.1 308.3 L929.6 304.3 L930.1 298.8 L930.6 291.5 L931.1 303.7 L931.6 293.7 L932.1 301.5 L932.6 313.2 L933.1 305.8 L933.6 303.1 L934.1 303.4 L934.6 308.0 L935.1 309.8 L935.6 296.5 L936.1 306.2 L936.6 315.8 L937.1 309.5 L937.6 300.4 L938.1 300.3 L938.6 291.1 L939.1 299.3 L939.6 314.2 L940.1 303.0 L940.6 298.1 L941.1 299.7 L941.6 302.5 L942.1 301.7 L942.6 299.9 L943.1 297.8 L943.6 306.4 L944.1 312.1 L944.6 299.4 L945.1 299.6 L945.6 310.2 L946.1 294.8 L946.6 300.3 L947.1 301.5 L947.6 304.6 L948.1 302.0 L948.6 298.3 L949.1 305.7 L949.6 296.4 L950.1 293.5 L950.6 291.8 L951.1 309.1 L951.6 293.3 L952.1 307.0 L952.6 308.3 L953.1 309.1 L953.6 302.9 L954.1 301.3 L954.6 305.6 L955.1 301.8 L955.6 298.0 L956.1 313.1 L956.6 300.0 L957.1 315.9 L957.6 308.7 L958.1 302.3 L958.6 307.4 L959.1 312.2 L959.6 297.2 L960.1 299.5 L960.6 298.5 L961.1 305.4 L961.6 306.0 L962.1 303.2 L962.6 299.3 L963.1 300.4 L963.6 310.4 L964.1 310.1 L964.6 304.2 L965.1 296.3 L965.6 308.1 L966.1 306.0 L966.6 305.4 L967.1 313.8 L967.6 309.3 L968.1 299.8 L968.6 300.4 L969.1 313.7 L969.6 307.1 L970.1 310.9 L970.6 305.7 L971.1 301.1 L971.6 307.7 L972.1 314.6 L972.6 307.5 L973.1 298.9 L973.6 303.0 L974.1 301.6 L974.6 304.0 L975.1 307.6 L975.6 312.4 L976.1 302.2 L976.6 298.3 L977.1 299.9 L977.6 298.8 L978.1 296.1 L978.6 298.8 L979.1 298.7 L979.6 292.0 L980.1 301.3 L980.6 296.4 L981.1 293.9 L981.6 302.1 L982.1 297.6 L982.6 309.5 L983.1 303.1 L983.6 301.1 L984.1 297.2 L984.6 299.2 L985.1 305.6 L985.6 297.4 L986.1 304.2 L986.6 289.7 L987.1 300.9 L987.6 303.4 L988.1 301.0 L988.6 299.4 L989.1 304.8 L989.6 295.6 L990.1 294.8 L990.6 300.0 L991.1 305.2 L991.6 301.2 L992.1 297.6 L992.6 299.9 L993.1 299.6 L993.6 291.2 L994.1 283.7 L994.6 291.9 L995.1 289.7 L995.6 294.5 L996.1 291.0 L996.6 292.3 L997.1 298.5 L997.6 297.1 L998.1 296.7 L998.6 304.8 L999.1 295.2 L999.6 296.1 L1000.1 303.6 L1000.6 292.2 L1001.1 289.7 L1001.6 302.8 L1002.1 297.5 L1002.6 298.5 L1003.1 298.0 L1003.6 298.7 L1004.1 291.8 L1004.6 293.2 L1005.1 288.1 L1005.6 293.1 L1006.1 293.0 L1006.6 289.8 L1007.1 294.2 L1007.6 303.7 L1008.1 285.2 L1008.6 293.5 L1009.1 294.1 L1009.6 294.5 L1010.1 286.4 L1010.6 294.9 L1011.1 292.4 L1011.6 288.7 L1012.1 287.9 L1012.6 290.6 L1013.1 293.3 L1013.6 292.8 L1014.1 299.3 L1014.6 287.8 L1015.1 292.4 L1015.6 288.2 L1016.1 294.0 L1016.6 291.4 L1017.1 288.8 L1017.6 286.3 L1018.1 289.4 L1018.6 294.5 L1019.1 300.4 L1019.6 298.3 L1020.1 290.6 L1020.6 294.2 L1021.1 296.8 L1021.6 296.3 L1022.1 297.1 L1022.6 299.7 L1023.1 297.1 L1023.6 293.4 L1024.1 287.7 L1024.6 293.9 L1025.1 288.4 L1025.6 294.9 L1026.1 296.9 L1026.6 289.9 L1027.1 294.8 L1027.6 294.2 L1028.1 303.5 L1028.6 298.0 L1029.1 288.9 L1029.6 298.4 L1030.1 298.3 L1030.6 295.4 L1031.1 294.1 L1031.6 297.5 L1032.1 297.8 L1032.6 297.2 L1033.1 291.4 L1033.6 294.5 L1034.1 289.7 L1034.6 290.2 L1035.1 294.1 L1035.6 291.9 L1036.1 294.0 L1036.6 305.4 L1037.1 297.6 L1037.6 292.2 L1038.1 287.3 L1038.6 292.6 L1039.1 290.2 L1039.6 286.8 L1040.1 297.7 L1040.6 292.9 L1041.1 296.1 L1041.6 306.0 L1042.1 295.0 L1042.6 294.2 L1043.1 295.3 L1043.6 292.9 L1044.1 290.7 L1044.6 292.6 L1045.1 297.5 L1045.6 291.8 L1046.1 287.3 L1046.6 287.4 L1047.1 287.8 L1047.6 291.2 L1048.1 292.9 L1048.6 292.5 L1049.1 294.7 L1049.6 289.4 L1050.1 292.6 L1050.6 290.0" fill="none" stroke="#fdae69" stroke-opacity="0.9" stroke-width="1.1" stroke-linejoin="round" clip-path="url(#clipb)"/>
<path d="M606.1 273.4 L606.6 276.7 L607.1 247.7 L607.6 261.9 L608.1 268.0 L608.6 268.8 L609.1 263.0 L609.6 267.8 L610.1 258.4 L610.6 259.6 L611.1 256.0 L611.6 245.1 L612.1 245.9 L612.6 255.0 L613.1 248.5 L613.6 260.9 L614.1 261.0 L614.6 264.6 L615.1 250.8 L615.6 261.8 L616.1 244.2 L616.6 244.6 L617.1 251.9 L617.6 253.1 L618.1 237.3 L618.6 235.4 L619.1 252.5 L619.6 241.0 L620.1 258.2 L620.6 251.1 L621.1 249.2 L621.6 247.3 L622.1 252.8 L622.6 241.9 L623.1 251.1 L623.6 235.4 L624.1 237.0 L624.6 231.1 L625.1 242.0 L625.6 235.8 L626.1 225.8 L626.6 253.5 L627.1 230.4 L627.6 233.5 L628.1 239.5 L628.6 254.2 L629.1 235.7 L629.6 246.1 L630.1 240.9 L630.6 225.8 L631.1 250.0 L631.6 253.9 L632.1 241.9 L632.6 245.8 L633.1 213.0 L633.6 234.3 L634.1 246.4 L634.6 257.4 L635.1 247.9 L635.6 256.0 L636.1 262.9 L636.6 254.0 L637.1 257.4 L637.6 265.7 L638.1 238.5 L638.6 203.0 L639.1 233.3 L639.6 255.6 L640.1 252.3 L640.6 245.5 L641.1 240.8 L641.6 250.1 L642.1 247.3 L642.6 253.5 L643.1 243.9 L643.6 256.7 L644.1 240.6 L644.6 246.3 L645.1 244.8 L645.6 258.7 L646.1 231.7 L646.6 241.7 L647.1 255.3 L647.6 237.3 L648.1 231.8 L648.6 245.5 L649.1 239.3 L649.6 248.7 L650.1 197.0 L650.6 243.5 L651.1 249.4 L651.6 254.5 L652.1 236.7 L652.6 262.1 L653.1 243.6 L653.6 241.0 L654.1 248.7 L654.6 261.6 L655.1 260.1 L655.6 269.4 L656.1 273.4 L656.6 273.3 L657.1 269.9 L657.6 290.0 L658.1 256.8 L658.6 262.3 L659.1 275.6 L659.6 270.1 L660.1 259.4 L660.6 273.8 L661.1 273.7 L661.6 257.8 L662.1 285.3 L662.6 305.0 L663.1 287.0 L663.6 271.6 L664.1 276.7 L664.6 264.3 L665.1 273.5 L665.6 263.7 L666.1 270.3 L666.6 260.6 L667.1 269.6 L667.6 265.3 L668.1 266.2 L668.6 240.3 L669.1 237.1 L669.6 253.8 L670.1 244.0 L670.6 250.7 L671.1 248.8 L671.6 247.5 L672.1 253.1 L672.6 250.8 L673.1 250.6 L673.6 240.8 L674.1 262.9 L674.6 251.8 L675.1 259.3 L675.6 253.7 L676.1 262.6 L676.6 255.4 L677.1 258.8 L677.6 260.2 L678.1 255.5 L678.6 258.7 L679.1 264.1 L679.6 266.4 L680.1 260.9 L680.6 289.1 L681.1 266.5 L681.6 274.1 L682.1 297.6 L682.6 276.5 L683.1 289.6 L683.6 291.7 L684.1 287.6 L684.6 278.9 L685.1 278.2 L685.6 289.5 L686.1 293.4 L686.6 274.9 L687.1 293.3 L687.6 287.9 L688.1 299.7 L688.6 295.9 L689.1 289.4 L689.6 293.4 L690.1 297.7 L690.6 307.2 L691.1 319.5 L691.6 299.8 L692.1 298.3 L692.6 303.1 L693.1 297.6 L693.6 303.1 L694.1 301.0 L694.6 298.1 L695.1 292.5 L695.6 299.0 L696.1 303.7 L696.6 297.0 L697.1 307.3 L697.6 303.6 L698.1 295.4 L698.6 308.5 L699.1 288.3 L699.6 304.7 L700.1 309.8 L700.6 295.3 L701.1 296.4 L701.6 304.1 L702.1 307.7 L702.6 301.6 L703.1 300.8 L703.6 306.8 L704.1 302.3 L704.6 291.5 L705.1 299.2 L705.6 299.7 L706.1 289.2 L706.6 303.2 L707.1 295.5 L707.6 306.0 L708.1 290.4 L708.6 294.9 L709.1 291.3 L709.6 310.5 L710.1 310.3 L710.6 311.9 L711.1 311.0 L711.6 306.4 L712.1 306.2 L712.6 286.8 L713.1 301.4 L713.6 295.6 L714.1 297.4 L714.6 290.1 L715.1 308.0 L715.6 299.3 L716.1 288.4 L716.6 303.5 L717.1 300.0 L717.6 293.6 L718.1 299.8 L718.6 297.3 L719.1 285.8 L719.6 291.5 L720.1 306.1 L720.6 304.9 L721.1 303.9 L721.6 292.9 L722.1 296.1 L722.6 299.7 L723.1 303.8 L723.6 291.3 L724.1 288.1 L724.6 302.7 L725.1 293.9 L725.6 290.3 L726.1 287.6 L726.6 288.4 L727.1 305.1 L727.6 301.4 L728.1 292.0 L728.6 286.9 L729.1 308.6 L729.6 309.0 L730.1 306.8 L730.6 304.4 L731.1 285.5 L731.6 289.7 L732.1 302.7 L732.6 296.8 L733.1 300.6 L733.6 295.6 L734.1 294.6 L734.6 303.3 L735.1 295.7 L735.6 298.7 L736.1 300.8 L736.6 301.2 L737.1 308.1 L737.6 309.3 L738.1 289.2 L738.6 297.0 L739.1 294.7 L739.6 305.2 L740.1 292.0 L740.6 305.3 L741.1 304.5 L741.6 303.6 L742.1 292.4 L742.6 298.3 L743.1 291.7 L743.6 302.7 L744.1 307.0 L744.6 288.9 L745.1 294.7 L745.6 300.0 L746.1 298.3 L746.6 312.8 L747.1 301.9 L747.6 305.4 L748.1 296.2 L748.6 315.4 L749.1 305.6 L749.6 310.1 L750.1 306.1 L750.6 291.0 L751.1 294.1 L751.6 296.5 L752.1 308.9 L752.6 301.3 L753.1 308.9 L753.6 307.9 L754.1 308.5 L754.6 313.1 L755.1 309.0 L755.6 296.8 L756.1 304.6 L756.6 322.1 L757.1 302.4 L757.6 319.6 L758.1 321.5 L758.6 305.6 L759.1 311.6 L759.6 297.9 L760.1 312.8 L760.6 301.0 L761.1 296.7 L761.6 302.0 L762.1 300.0 L762.6 297.8 L763.1 303.5 L763.6 300.1 L764.1 296.6 L764.6 308.0 L765.1 318.2 L765.6 302.1 L766.1 296.2 L766.6 294.4 L767.1 305.6 L767.6 300.7 L768.1 303.3 L768.6 289.4 L769.1 296.3 L769.6 297.3 L770.1 314.1 L770.6 306.5 L771.1 292.1 L771.6 315.0 L772.1 320.4 L772.6 322.2 L773.1 292.7 L773.6 314.7 L774.1 319.7 L774.6 318.2 L775.1 311.1 L775.6 299.2 L776.1 307.7 L776.6 308.0 L777.1 313.8 L777.6 312.6 L778.1 305.6 L778.6 313.0 L779.1 299.1 L779.6 299.5 L780.1 302.9 L780.6 307.0 L781.1 299.6 L781.6 309.6 L782.1 302.8 L782.6 292.3 L783.1 298.6 L783.6 291.6 L784.1 291.0 L784.6 287.2 L785.1 308.1 L785.6 304.7 L786.1 286.8 L786.6 306.3 L787.1 305.0 L787.6 295.4 L788.1 302.1 L788.6 314.3 L789.1 299.7 L789.6 300.1 L790.1 304.5 L790.6 288.4 L791.1 286.0 L791.6 285.3 L792.1 295.4 L792.6 302.2 L793.1 290.0 L793.6 286.2 L794.1 297.7 L794.6 295.0 L795.1 303.4 L795.6 298.6 L796.1 299.6 L796.6 301.3 L797.1 302.4 L797.6 295.3 L798.1 294.0 L798.6 313.0 L799.1 323.7 L799.6 308.8 L800.1 287.5 L800.6 298.9 L801.1 306.8 L801.6 285.7 L802.1 292.4 L802.6 292.1 L803.1 287.7 L803.6 288.1 L804.1 301.1 L804.6 289.7 L805.1 291.5 L805.6 306.4 L806.1 288.9 L806.6 281.7 L807.1 301.1 L807.6 312.4 L808.1 299.6 L808.6 301.2 L809.1 290.5 L809.6 293.3 L810.1 310.7 L810.6 310.0 L811.1 305.2 L811.6 296.5 L812.1 293.7 L812.6 294.4 L813.1 292.8 L813.6 305.6 L814.1 295.7 L814.6 297.6 L815.1 305.4 L815.6 304.5 L816.1 299.3 L816.6 302.4 L817.1 299.2 L817.6 285.1 L818.1 297.8 L818.6 294.7 L819.1 295.0 L819.6 299.1 L820.1 293.6 L820.6 306.1 L821.1 296.4 L821.6 299.2 L822.1 300.9 L822.6 297.5 L823.1 303.8 L823.6 304.4 L824.1 302.8 L824.6 293.0 L825.1 291.8 L825.6 294.2 L826.1 298.9 L826.6 284.8 L827.1 292.1 L827.6 290.1 L828.1 293.4 L828.6 291.1 L829.1 303.9 L829.6 301.6 L830.1 305.3 L830.6 291.4 L831.1 293.2 L831.6 296.2 L832.1 310.0 L832.6 310.3 L833.1 293.9 L833.6 302.9 L834.1 313.3 L834.6 290.4 L835.1 296.1 L835.6 307.3 L836.1 303.0 L836.6 291.2 L837.1 308.9 L837.6 305.0 L838.1 303.4 L838.6 289.9 L839.1 298.9 L839.6 310.1 L840.1 304.8 L840.6 308.6 L841.1 301.7 L841.6 314.9 L842.1 303.2 L842.6 312.1 L843.1 307.5 L843.6 298.1 L844.1 316.0 L844.6 295.5 L845.1 298.5 L845.6 304.4 L846.1 294.0 L846.6 291.2 L847.1 303.0 L847.6 300.1 L848.1 301.5 L848.6 306.5 L849.1 318.8 L849.6 299.4 L850.1 319.8 L850.6 304.3 L851.1 301.1 L851.6 281.6 L852.1 289.2 L852.6 301.4 L853.1 302.4 L853.6 291.9 L854.1 299.5 L854.6 303.0 L855.1 292.1 L855.6 285.3 L856.1 290.1 L856.6 296.2 L857.1 301.1 L857.6 305.3 L858.1 292.8 L858.6 300.0 L859.1 298.9 L859.6 302.0 L860.1 309.8 L860.6 310.9 L861.1 298.4 L861.6 297.2 L862.1 296.0 L862.6 296.9 L863.1 296.9 L863.6 298.7 L864.1 296.7 L864.6 292.6 L865.1 291.7 L865.6 300.6 L866.1 317.8 L866.6 304.6 L867.1 305.7 L867.6 303.1 L868.1 299.3 L868.6 313.5 L869.1 297.1 L869.6 292.2 L870.1 289.9 L870.6 299.6 L871.1 290.7 L871.6 291.1 L872.1 291.2 L872.6 288.9 L873.1 299.9 L873.6 287.1 L874.1 316.2 L874.6 280.4 L875.1 291.0 L875.6 301.8 L876.1 304.2 L876.6 298.0 L877.1 302.5 L877.6 301.1 L878.1 300.5 L878.6 303.4 L879.1 300.2 L879.6 297.6 L880.1 296.6 L880.6 304.2 L881.1 295.8 L881.6 301.0 L882.1 308.3 L882.6 300.4 L883.1 306.3 L883.6 294.4 L884.1 299.6 L884.6 301.4 L885.1 299.6 L885.6 301.2 L886.1 307.7 L886.6 295.4 L887.1 294.1 L887.6 301.5 L888.1 288.6 L888.6 299.6 L889.1 308.6 L889.6 300.1 L890.1 304.3 L890.6 303.3 L891.1 309.1 L891.6 304.3 L892.1 302.2 L892.6 277.1 L893.1 297.3 L893.6 305.8 L894.1 299.6 L894.6 294.7 L895.1 305.9 L895.6 293.0 L896.1 296.8 L896.6 304.5 L897.1 295.8 L897.6 300.6 L898.1 299.4 L898.6 290.7 L899.1 294.4 L899.6 295.6 L900.1 294.2 L900.6 306.6 L901.1 299.0 L901.6 294.8 L902.1 289.7 L902.6 297.1 L903.1 309.2 L903.6 297.6 L904.1 305.0 L904.6 303.2 L905.1 295.9 L905.6 292.8 L906.1 303.2 L906.6 286.9 L907.1 303.2 L907.6 290.4 L908.1 304.9 L908.6 295.2 L909.1 297.1 L909.6 305.5 L910.1 290.5 L910.6 298.6 L911.1 296.5 L911.6 302.4 L912.1 304.0 L912.6 301.2 L913.1 301.6 L913.6 298.1 L914.1 305.6 L914.6 300.8 L915.1 304.1 L915.6 305.4 L916.1 295.6 L916.6 297.5 L917.1 308.2 L917.6 307.5 L918.1 316.9 L918.6 290.8 L919.1 309.6 L919.6 315.6 L920.1 307.7 L920.6 312.4 L921.1 306.0 L921.6 304.7 L922.1 311.3 L922.6 294.5 L923.1 286.8 L923.6 306.1 L924.1 303.0 L924.6 303.2 L925.1 303.6 L925.6 305.9 L926.1 299.2 L926.6 306.8 L927.1 306.2 L927.6 296.4 L928.1 303.9 L928.6 307.2 L929.1 299.8 L929.6 312.2 L930.1 303.0 L930.6 311.1 L931.1 315.6 L931.6 294.4 L932.1 295.1 L932.6 308.1 L933.1 302.0 L933.6 306.5 L934.1 314.9 L934.6 298.7 L935.1 308.1 L935.6 299.3 L936.1 296.9 L936.6 304.6 L937.1 303.4 L937.6 310.4 L938.1 304.8 L938.6 309.3 L939.1 307.6 L939.6 292.1 L940.1 302.8 L940.6 304.0 L941.1 313.3 L941.6 300.4 L942.1 310.3 L942.6 306.3 L943.1 296.8 L943.6 309.3" fill="none" stroke="#f97262" stroke-opacity="0.9" stroke-width="1.1" stroke-linejoin="round" clip-path="url(#clipb)"/>
<rect x="583" y="74" width="2" height="272" fill="#e2e2e2"/>
<rect x="1073" y="74" width="1" height="272" fill="#8c8c8c"/>
<rect x="583" y="74" width="491" height="1" fill="#9a9a9a"/>
<rect x="583" y="345" width="491" height="1" fill="#a5a5a5"/>
<line x1="606.1" y1="345.3" x2="606.1" y2="347.9" stroke="#707070" stroke-width="1"/>
<text x="606.1" y="360.7" font-size="16.4" text-anchor="middle" textLength="9.5" lengthAdjust="spacingAndGlyphs" fill="#111">0</text>
<line x1="693.9" y1="345.3" x2="693.9" y2="347.9" stroke="#707070" stroke-width="1"/>
<text x="693.9" y="360.7" font-size="16.4" text-anchor="middle" textLength="38.2" lengthAdjust="spacingAndGlyphs" fill="#111">1000</text>
<line x1="781.8" y1="345.3" x2="781.8" y2="347.9" stroke="#707070" stroke-width="1"/>
<text x="781.8" y="360.7" font-size="16.4" text-anchor="middle" textLength="38.2" lengthAdjust="spacingAndGlyphs" fill="#111">2000</text>
<line x1="869.6" y1="345.3" x2="869.6" y2="347.9" stroke="#707070" stroke-width="1"/>
<text x="869.6" y="360.7" font-size="16.4" text-anchor="middle" textLength="38.2" lengthAdjust="spacingAndGlyphs" fill="#111">3000</text>
<line x1="957.5" y1="345.3" x2="957.5" y2="347.9" stroke="#707070" stroke-width="1"/>
<text x="957.5" y="360.7" font-size="16.4" text-anchor="middle" textLength="38.2" lengthAdjust="spacingAndGlyphs" fill="#111">4000</text>
<line x1="1045.3" y1="345.3" x2="1045.3" y2="347.9" stroke="#707070" stroke-width="1"/>
<text x="1045.3" y="360.7" font-size="16.4" text-anchor="middle" textLength="38.2" lengthAdjust="spacingAndGlyphs" fill="#111">5000</text>
<line x1="581.0" y1="320.4" x2="584.0" y2="320.4" stroke="#707070" stroke-width="1"/>
<text x="578.7" y="325.9" font-size="16.4" text-anchor="end" textLength="23.8" lengthAdjust="spacingAndGlyphs" fill="#111">0.4</text>
<line x1="581.0" y1="287.0" x2="584.0" y2="287.0" stroke="#707070" stroke-width="1"/>
<text x="578.7" y="292.5" font-size="16.4" text-anchor="end" textLength="23.8" lengthAdjust="spacingAndGlyphs" fill="#111">0.6</text>
<line x1="581.0" y1="253.5" x2="584.0" y2="253.5" stroke="#707070" stroke-width="1"/>
<text x="578.7" y="259.0" font-size="16.4" text-anchor="end" textLength="23.8" lengthAdjust="spacingAndGlyphs" fill="#111">0.8</text>
<line x1="581.0" y1="220.1" x2="584.0" y2="220.1" stroke="#707070" stroke-width="1"/>
<text x="578.7" y="225.6" font-size="16.4" text-anchor="end" textLength="23.8" lengthAdjust="spacingAndGlyphs" fill="#111">1.0</text>
<line x1="581.0" y1="186.7" x2="584.0" y2="186.7" stroke="#707070" stroke-width="1"/>
<text x="578.7" y="192.2" font-size="16.4" text-anchor="end" textLength="23.8" lengthAdjust="spacingAndGlyphs" fill="#111">1.2</text>
<line x1="581.0" y1="153.3" x2="584.0" y2="153.3" stroke="#707070" stroke-width="1"/>
<text x="578.7" y="158.8" font-size="16.4" text-anchor="end" textLength="23.8" lengthAdjust="spacingAndGlyphs" fill="#111">1.4</text>
<line x1="581.0" y1="119.8" x2="584.0" y2="119.8" stroke="#707070" stroke-width="1"/>
<text x="578.7" y="125.3" font-size="16.4" text-anchor="end" textLength="23.8" lengthAdjust="spacingAndGlyphs" fill="#111">1.6</text>
<line x1="581.0" y1="86.4" x2="584.0" y2="86.4" stroke="#707070" stroke-width="1"/>
<text x="578.7" y="91.9" font-size="16.4" text-anchor="end" textLength="23.8" lengthAdjust="spacingAndGlyphs" fill="#111">1.8</text>
<text x="828.8" y="65.0" font-size="21.5" text-anchor="middle" font-weight="bold" textLength="121.5" lengthAdjust="spacingAndGlyphs" fill="#111">(b) Entropy</text>
<path d="M66.4 597.0 L66.9 582.0 L67.4 567.0 L67.9 552.0 L68.4 537.0 L68.9 522.0 L69.4 514.6 L69.9 509.8 L70.4 498.3 L70.9 490.2 L71.4 494.1 L71.9 494.4 L72.4 493.4 L72.9 487.0 L73.4 493.3 L73.9 498.9 L74.4 485.3 L74.9 490.8 L75.4 480.3 L75.9 484.0 L76.4 479.9 L76.9 489.7 L77.4 482.0 L77.9 491.1 L78.4 489.9 L78.9 487.1 L79.4 470.8 L79.9 483.9 L80.4 487.4 L80.9 488.3 L81.4 477.7 L81.9 485.1 L82.4 482.1 L82.9 483.1 L83.4 496.7 L83.9 484.5 L84.4 490.6 L84.9 497.7 L85.4 488.2 L85.9 491.2 L86.4 493.7 L86.9 494.1 L87.4 486.1 L87.9 495.1 L88.4 503.9 L88.9 484.6 L89.4 500.7 L89.9 495.8 L90.4 490.9 L90.9 508.7 L91.4 500.7 L91.9 487.2 L92.4 496.0 L92.9 499.5 L93.4 494.3 L93.9 499.6 L94.4 494.4 L94.9 500.4 L95.4 505.7 L95.9 491.9 L96.4 499.0 L96.9 494.9 L97.4 500.0 L97.9 491.4 L98.4 495.3 L98.9 498.2 L99.4 505.9 L99.9 507.5 L100.4 491.1 L100.9 495.5 L101.4 506.1 L101.9 489.0 L102.4 499.7 L102.9 502.7 L103.4 514.7 L103.9 514.0 L104.4 510.1 L104.9 512.6 L105.4 514.9 L105.9 528.7 L106.4 517.0 L106.9 519.4 L107.4 522.9 L107.9 518.9 L108.4 516.9 L108.9 510.1 L109.4 516.8 L109.9 514.0 L110.4 525.0 L110.9 520.5 L111.4 514.8 L111.9 518.1 L112.4 509.5 L112.9 517.6 L113.4 509.0 L113.9 511.8 L114.4 497.1 L114.9 506.9 L115.4 490.9 L115.9 486.6 L116.4 496.7 L116.9 491.5 L117.4 497.5 L117.9 510.3 L118.4 488.1 L118.9 488.2 L119.4 493.4 L119.9 494.1 L120.4 488.5 L120.9 486.9 L121.4 492.6 L121.9 489.9 L122.4 478.1 L122.9 484.7 L123.4 484.9 L123.9 477.7 L124.4 487.1 L124.9 479.4 L125.4 491.7 L125.9 486.4 L126.4 485.6 L126.9 480.7 L127.4 484.4 L127.9 471.1 L128.4 476.9 L128.9 487.2 L129.4 469.7 L129.9 490.7 L130.4 472.3 L130.9 489.7 L131.4 478.2 L131.9 490.0 L132.4 485.8 L132.9 474.4 L133.4 494.6 L133.9 496.0 L134.4 485.2 L134.9 483.7 L135.4 485.2 L135.9 479.6 L136.4 495.3 L136.9 483.8 L137.4 487.9 L137.9 482.7 L138.4 484.3 L138.9 480.0 L139.4 497.7 L139.9 487.1 L140.4 495.3 L140.9 488.2 L141.4 482.3 L141.9 483.8 L142.4 481.6 L142.9 485.3 L143.4 481.8 L143.9 482.1 L144.4 473.1 L144.9 476.2 L145.4 492.7 L145.9 475.8 L146.4 472.0 L146.9 481.8 L147.4 488.9 L147.9 467.9 L148.4 476.7 L148.9 472.9 L149.4 464.8 L149.9 482.7 L150.4 477.3 L150.9 478.0 L151.4 472.3 L151.9 481.7 L152.4 474.8 L152.9 477.8 L153.4 471.2 L153.9 470.7 L154.4 488.8 L154.9 475.2 L155.4 481.0 L155.9 478.4 L156.4 475.3 L156.9 474.4 L157.4 482.7 L157.9 475.5 L158.4 476.5 L158.9 477.5 L159.4 485.7 L159.9 482.1 L160.4 479.2 L160.9 473.0 L161.4 466.5 L161.9 483.2 L162.4 482.6 L162.9 473.1 L163.4 476.6 L163.9 477.7 L164.4 477.2 L164.9 476.2 L165.4 464.9 L165.9 478.2 L166.4 456.3 L166.9 471.0 L167.4 467.4 L167.9 468.5 L168.4 475.1 L168.9 471.7 L169.4 451.6 L169.9 447.5 L170.4 466.5 L170.9 453.2 L171.4 461.5 L171.9 468.6 L172.4 451.1 L172.9 448.1 L173.4 466.8 L173.9 466.6 L174.4 466.0 L174.9 470.1 L175.4 465.2 L175.9 460.8 L176.4 471.4 L176.9 466.3 L177.4 461.4 L177.9 477.1 L178.4 473.8 L178.9 476.5 L179.4 465.3 L179.9 467.7 L180.4 465.3 L180.9 465.8 L181.4 473.3 L181.9 465.4 L182.4 473.0 L182.9 472.6 L183.4 484.3 L183.9 457.9 L184.4 475.7 L184.9 468.3 L185.4 469.4 L185.9 459.1 L186.4 466.2 L186.9 474.2 L187.4 467.3 L187.9 468.6 L188.4 465.3 L188.9 475.5 L189.4 466.2 L189.9 449.9 L190.4 460.5 L190.9 450.8 L191.4 440.7 L191.9 461.1 L192.4 474.8 L192.9 465.5 L193.4 456.5 L193.9 458.7 L194.4 474.4 L194.9 467.4 L195.4 467.0 L195.9 466.1 L196.4 466.2 L196.9 470.9 L197.4 467.3 L197.9 463.2 L198.4 452.6 L198.9 464.2 L199.4 455.4 L199.9 468.1 L200.4 449.4 L200.9 458.3 L201.4 459.6 L201.9 449.7 L202.4 473.3 L202.9 471.2 L203.4 457.0 L203.9 467.1 L204.4 464.3 L204.9 441.8 L205.4 464.8 L205.9 463.5 L206.4 465.3 L206.9 456.6 L207.4 463.3 L207.9 464.5 L208.4 475.2 L208.9 469.6 L209.4 467.8 L209.9 479.5 L210.4 463.6 L210.9 464.1 L211.4 451.6 L211.9 476.8 L212.4 471.5 L212.9 470.5 L213.4 466.8 L213.9 461.5 L214.4 461.5 L214.9 457.9 L215.4 458.3 L215.9 460.0 L216.4 471.3 L216.9 463.9 L217.4 459.2 L217.9 454.8 L218.4 455.0 L218.9 473.0 L219.4 464.9 L219.9 461.9 L220.4 458.2 L220.9 452.3 L221.4 459.5 L221.9 465.6 L222.4 455.3 L222.9 456.5 L223.4 455.9 L223.9 457.7 L224.4 444.1 L224.9 453.6 L225.4 448.3 L225.9 461.6 L226.4 448.9 L226.9 459.6 L227.4 466.9 L227.9 453.8 L228.4 453.1 L228.9 459.6 L229.4 459.5 L229.9 452.6 L230.4 464.4 L230.9 476.8 L231.4 460.0 L231.9 460.2 L232.4 454.5 L232.9 465.0 L233.4 453.6 L233.9 454.8 L234.4 472.0 L234.9 454.2 L235.4 469.0 L235.9 472.0 L236.4 461.4 L236.9 463.0 L237.4 473.7 L237.9 456.4 L238.4 452.6 L238.9 445.9 L239.4 456.0 L239.9 465.9 L240.4 461.0 L240.9 446.0 L241.4 445.2 L241.9 447.4 L242.4 453.4 L242.9 449.7 L243.4 452.5 L243.9 453.9 L244.4 449.3 L244.9 450.5 L245.4 451.4 L245.9 449.0 L246.4 454.3 L246.9 465.0 L247.4 455.0 L247.9 450.3 L248.4 436.0 L248.9 451.9 L249.4 434.3 L249.9 439.1 L250.4 456.8 L250.9 455.9 L251.4 450.2 L251.9 438.9 L252.4 450.1 L252.9 448.4 L253.4 459.7 L253.9 472.9 L254.4 458.4 L254.9 451.1 L255.4 449.2 L255.9 458.0 L256.4 457.4 L256.9 451.0 L257.4 461.6 L257.9 451.5 L258.4 468.1 L258.9 467.0 L259.4 466.0 L259.9 454.2 L260.4 462.0 L260.9 456.4 L261.4 453.4 L261.9 453.1 L262.4 445.1 L262.9 443.7 L263.4 460.7 L263.9 453.5 L264.4 456.1 L264.9 462.4 L265.4 442.4 L265.9 449.6 L266.4 456.5 L266.9 457.8 L267.4 451.8 L267.9 462.3 L268.4 456.1 L268.9 443.9 L269.4 445.6 L269.9 458.7 L270.4 456.4 L270.9 438.7 L271.4 464.9 L271.9 459.3 L272.4 465.2 L272.9 453.2 L273.4 454.5 L273.9 448.7 L274.4 478.2 L274.9 458.3 L275.4 472.2 L275.9 455.2 L276.4 462.0 L276.9 448.5 L277.4 457.8 L277.9 468.8 L278.4 452.0 L278.9 469.9 L279.4 463.5 L279.9 452.9 L280.4 456.3 L280.9 457.2 L281.4 460.1 L281.9 456.1 L282.4 453.3 L282.9 456.3 L283.4 449.9 L283.9 447.1 L284.4 456.4 L284.9 462.8 L285.4 444.1 L285.9 455.6 L286.4 449.8 L286.9 447.0 L287.4 461.1 L287.9 450.6 L288.4 465.9 L288.9 448.0 L289.4 457.3 L289.9 452.5 L290.4 448.9 L290.9 459.3 L291.4 454.6 L291.9 460.9 L292.4 456.5 L292.9 448.6 L293.4 456.9 L293.9 459.4 L294.4 467.1 L294.9 454.3 L295.4 461.2 L295.9 449.2 L296.4 468.0 L296.9 454.7 L297.4 449.9 L297.9 463.3 L298.4 472.8 L298.9 453.1 L299.4 456.6 L299.9 458.5 L300.4 455.4 L300.9 466.9 L301.4 457.3 L301.9 457.5 L302.4 466.6 L302.9 455.5 L303.4 464.2 L303.9 453.0 L304.4 451.1 L304.9 446.8 L305.4 474.2 L305.9 456.7 L306.4 461.0 L306.9 459.0 L307.4 460.6 L307.9 459.0 L308.4 473.8 L308.9 451.0 L309.4 446.9 L309.9 450.5 L310.4 447.7 L310.9 462.9 L311.4 462.9 L311.9 449.6 L312.4 445.3 L312.9 452.6 L313.4 465.7 L313.9 433.5 L314.4 459.4 L314.9 447.6 L315.4 463.2 L315.9 446.4 L316.4 452.0 L316.9 442.6 L317.4 446.9 L317.9 465.4 L318.4 460.6 L318.9 450.5 L319.4 447.3 L319.9 440.7 L320.4 451.9 L320.9 455.7 L321.4 455.9 L321.9 456.9 L322.4 449.7 L322.9 458.1 L323.4 458.4 L323.9 468.6 L324.4 473.7 L324.9 459.0 L325.4 454.3 L325.9 459.2 L326.4 454.1 L326.9 452.3 L327.4 456.7 L327.9 448.6 L328.4 460.1 L328.9 453.6 L329.4 455.2 L329.9 450.6 L330.4 446.1 L330.9 443.6 L331.4 447.7 L331.9 443.9 L332.4 448.9 L332.9 446.2 L333.4 435.2 L333.9 445.9 L334.4 434.8 L334.9 440.7 L335.4 443.9 L335.9 430.8 L336.4 448.0 L336.9 449.0 L337.4 447.2 L337.9 445.6 L338.4 447.0 L338.9 442.7 L339.4 448.4 L339.9 445.9 L340.4 450.8 L340.9 440.7 L341.4 451.5 L341.9 450.3 L342.4 447.2 L342.9 444.8 L343.4 452.8 L343.9 435.5 L344.4 451.2 L344.9 449.1 L345.4 449.0 L345.9 450.3 L346.4 442.0 L346.9 445.3 L347.4 452.9 L347.9 451.7 L348.4 451.0 L348.9 438.7 L349.4 455.2 L349.9 460.4 L350.4 459.5 L350.9 454.3 L351.4 440.8 L351.9 460.1 L352.4 452.4 L352.9 434.5 L353.4 457.5 L353.9 443.9 L354.4 445.7 L354.9 450.9 L355.4 465.2 L355.9 452.5 L356.4 458.0 L356.9 469.5 L357.4 467.9 L357.9 453.8 L358.4 452.1 L358.9 443.4 L359.4 446.2 L359.9 453.9 L360.4 452.7 L360.9 449.9 L361.4 455.7 L361.9 442.2 L362.4 447.2 L362.9 453.8 L363.4 453.4 L363.9 457.9 L364.4 453.2 L364.9 448.5 L365.4 453.4 L365.9 442.5 L366.4 437.5 L366.9 454.6 L367.4 449.5 L367.9 452.1 L368.4 437.2 L368.9 447.2 L369.4 445.4 L369.9 443.4 L370.4 432.7 L370.9 447.3 L371.4 456.8 L371.9 453.2 L372.4 445.4 L372.9 449.8 L373.4 456.1 L373.9 428.9 L374.4 448.4 L374.9 452.7 L375.4 453.1 L375.9 460.0 L376.4 454.1 L376.9 446.2 L377.4 444.6 L377.9 448.0 L378.4 437.1 L378.9 440.1 L379.4 446.5 L379.9 454.2 L380.4 437.4 L380.9 438.7 L381.4 440.9 L381.9 450.6 L382.4 441.8 L382.9 454.0 L383.4 436.0 L383.9 442.6 L384.4 443.6 L384.9 451.2 L385.4 453.6 L385.9 434.3 L386.4 439.9 L386.9 449.8 L387.4 442.0 L387.9 435.5 L388.4 455.1 L388.9 450.7 L389.4 451.2 L389.9 443.3 L390.4 454.7 L390.9 444.5 L391.4 455.0 L391.9 440.0 L392.4 439.5 L392.9 446.4 L393.4 438.7 L393.9 448.7 L394.4 444.6 L394.9 435.0 L395.4 442.4 L395.9 439.1 L396.4 448.2 L396.9 436.2 L397.4 437.5 L397.9 450.9 L398.4 458.8 L398.9 456.6 L399.4 442.3 L399.9 443.6 L400.4 454.2 L400.9 441.9 L401.4 435.7 L401.9 444.4 L402.4 447.5 L402.9 438.4 L403.4 432.4 L403.9 433.5 L404.4 449.9 L404.9 439.7 L405.4 444.9 L405.9 447.4 L406.4 450.1 L406.9 443.7 L407.4 450.4 L407.9 439.7 L408.4 443.4 L408.9 438.8 L409.4 456.0 L409.9 447.3 L410.4 441.8 L410.9 446.2 L411.4 448.2 L411.9 455.8 L412.4 439.0 L412.9 443.9 L413.4 449.4 L413.9 471.3 L414.4 458.3 L414.9 449.5 L415.4 454.7 L415.9 465.3 L416.4 446.6 L416.9 444.4 L417.4 455.3 L417.9 448.5 L418.4 449.3 L418.9 439.5 L419.4 457.1 L419.9 455.2 L420.4 447.1 L420.9 448.4 L421.4 427.7 L421.9 449.2 L422.4 443.3 L422.9 448.2 L423.4 449.9 L423.9 442.0 L424.4 432.0 L424.9 448.6 L425.4 440.3 L425.9 444.5 L426.4 443.1 L426.9 445.1 L427.4 430.8 L427.9 456.8 L428.4 449.9 L428.9 456.0 L429.4 462.5 L429.9 447.4 L430.4 432.9 L430.9 438.9 L431.4 436.2 L431.9 441.3 L432.4 445.0 L432.9 427.5 L433.4 444.0 L433.9 428.0 L434.4 441.4 L434.9 438.0 L435.4 435.9 L435.9 438.2 L436.4 434.5 L436.9 433.6 L437.4 425.4 L437.9 438.2 L438.4 453.0 L438.9 455.1 L439.4 450.2 L439.9 445.6 L440.4 435.2 L440.9 452.2 L441.4 441.0 L441.9 440.9 L442.4 439.8 L442.9 442.7 L443.4 438.0 L443.9 439.9 L444.4 431.8 L444.9 436.9 L445.4 457.6 L445.9 439.4 L446.4 438.0 L446.9 442.6 L447.4 444.5 L447.9 430.4 L448.4 437.1 L448.9 445.3 L449.4 440.1 L449.9 438.5 L450.4 450.2 L450.9 432.9 L451.4 439.2 L451.9 436.0 L452.4 451.7 L452.9 425.9 L453.4 436.2 L453.9 437.2 L454.4 446.3 L454.9 444.9 L455.4 450.3 L455.9 426.6 L456.4 443.6 L456.9 435.2 L457.4 431.6 L457.9 439.3" fill="none" stroke="#1f77b4" stroke-opacity="0.6" stroke-width="1.1" stroke-linejoin="round" clip-path="url(#clipc)"/>
<path d="M66.4 545.0 L66.9 539.6 L67.4 534.2 L67.9 528.8 L68.4 523.4 L68.9 518.0 L69.4 512.0 L69.9 510.0 L70.4 506.6 L70.9 504.7 L71.4 502.8 L71.9 499.4 L72.4 506.0 L72.9 510.5 L73.4 495.0 L73.9 503.7 L74.4 498.9 L74.9 509.2 L75.4 491.9 L75.9 495.1 L76.4 500.1 L76.9 499.0 L77.4 484.6 L77.9 498.6 L78.4 494.0 L78.9 492.2 L79.4 492.8 L79.9 495.3 L80.4 480.7 L80.9 504.0 L81.4 486.8 L81.9 476.7 L82.4 492.2 L82.9 503.2 L83.4 488.9 L83.9 503.0 L84.4 502.8 L84.9 485.5 L85.4 473.9 L85.9 482.9 L86.4 500.4 L86.9 485.5 L87.4 481.0 L87.9 481.0 L88.4 489.6 L88.9 488.8 L89.4 494.6 L89.9 494.6 L90.4 480.6 L90.9 486.2 L91.4 478.6 L91.9 485.9 L92.4 476.5 L92.9 475.8 L93.4 499.8 L93.9 484.3 L94.4 488.5 L94.9 502.2 L95.4 489.5 L95.9 482.8 L96.4 484.5 L96.9 478.3 L97.4 491.1 L97.9 480.3 L98.4 495.5 L98.9 479.2 L99.4 478.6 L99.9 479.1 L100.4 487.6 L100.9 484.1 L101.4 493.8 L101.9 479.9 L102.4 486.6 L102.9 498.7 L103.4 482.8 L103.9 489.3 L104.4 497.7 L104.9 491.1 L105.4 482.8 L105.9 472.6 L106.4 506.2 L106.9 492.3 L107.4 498.6 L107.9 486.6 L108.4 503.3 L108.9 493.5 L109.4 490.5 L109.9 483.3 L110.4 492.8 L110.9 486.3 L111.4 488.5 L111.9 477.6 L112.4 485.0 L112.9 490.1 L113.4 479.2 L113.9 489.2 L114.4 492.2 L114.9 484.9 L115.4 482.4 L115.9 482.0 L116.4 492.6 L116.9 473.3 L117.4 482.1 L117.9 480.3 L118.4 483.8 L118.9 481.8 L119.4 473.4 L119.9 495.7 L120.4 481.7 L120.9 470.5 L121.4 473.4 L121.9 481.1 L122.4 484.8 L122.9 470.3 L123.4 485.0 L123.9 469.1 L124.4 473.2 L124.9 485.2 L125.4 491.6 L125.9 477.1 L126.4 475.6 L126.9 487.3 L127.4 468.6 L127.9 477.8 L128.4 476.6 L128.9 482.2 L129.4 475.7 L129.9 470.9 L130.4 477.0 L130.9 463.7 L131.4 478.5 L131.9 467.8 L132.4 467.0 L132.9 471.7 L133.4 475.6 L133.9 481.3 L134.4 475.1 L134.9 483.5 L135.4 486.1 L135.9 478.4 L136.4 472.1 L136.9 486.9 L137.4 482.2 L137.9 464.8 L138.4 473.0 L138.9 482.2 L139.4 470.7 L139.9 476.7 L140.4 469.1 L140.9 484.6 L141.4 483.5 L141.9 483.3 L142.4 491.9 L142.9 477.5 L143.4 477.8 L143.9 494.9 L144.4 468.5 L144.9 482.8 L145.4 466.0 L145.9 476.7 L146.4 490.5 L146.9 475.4 L147.4 467.0 L147.9 492.3 L148.4 469.8 L148.9 473.0 L149.4 477.7 L149.9 465.1 L150.4 485.2 L150.9 489.1 L151.4 483.2 L151.9 479.7 L152.4 476.4 L152.9 485.9 L153.4 455.0 L153.9 478.6 L154.4 482.4 L154.9 465.0 L155.4 483.2 L155.9 478.4 L156.4 477.8 L156.9 478.3 L157.4 481.6 L157.9 480.7 L158.4 468.9 L158.9 475.9 L159.4 475.2 L159.9 475.7 L160.4 470.2 L160.9 481.9 L161.4 484.0 L161.9 485.6 L162.4 488.8 L162.9 486.2 L163.4 471.4 L163.9 470.6 L164.4 473.1 L164.9 480.1 L165.4 473.9 L165.9 482.8 L166.4 487.7 L166.9 470.0 L167.4 480.6 L167.9 469.4 L168.4 462.3 L168.9 461.7 L169.4 468.8 L169.9 455.8 L170.4 474.8 L170.9 483.1 L171.4 461.7 L171.9 468.3 L172.4 483.2 L172.9 474.4 L173.4 473.9 L173.9 471.1 L174.4 481.2 L174.9 476.1 L175.4 465.1 L175.9 454.0 L176.4 452.2 L176.9 479.3 L177.4 472.1 L177.9 485.2 L178.4 477.8 L178.9 464.3 L179.4 476.5 L179.9 483.1 L180.4 465.8 L180.9 468.9 L181.4 486.3 L181.9 457.8 L182.4 462.4 L182.9 477.8 L183.4 471.6 L183.9 460.7 L184.4 458.7 L184.9 473.7 L185.4 479.5 L185.9 476.5 L186.4 474.0 L186.9 482.1 L187.4 472.0 L187.9 462.9 L188.4 485.2 L188.9 457.9 L189.4 466.7 L189.9 466.7 L190.4 477.7 L190.9 458.2 L191.4 461.7 L191.9 449.1 L192.4 466.0 L192.9 466.5 L193.4 468.2 L193.9 455.1 L194.4 463.4 L194.9 455.0 L195.4 457.2 L195.9 460.3 L196.4 471.0 L196.9 457.4 L197.4 462.0 L197.9 453.7 L198.4 455.0 L198.9 454.0 L199.4 458.5 L199.9 466.7 L200.4 451.6 L200.9 466.5 L201.4 453.6 L201.9 464.7 L202.4 457.9 L202.9 460.1 L203.4 459.6 L203.9 471.5 L204.4 463.7 L204.9 470.0 L205.4 457.8 L205.9 457.9 L206.4 473.0 L206.9 446.0 L207.4 451.9 L207.9 457.1 L208.4 472.7 L208.9 452.3 L209.4 464.0 L209.9 470.0 L210.4 455.3 L210.9 455.9 L211.4 470.6 L211.9 452.7 L212.4 448.7 L212.9 464.3 L213.4 452.1 L213.9 466.7 L214.4 460.2 L214.9 442.0 L215.4 458.4 L215.9 456.3 L216.4 451.4 L216.9 465.6 L217.4 441.9 L217.9 447.0 L218.4 453.3 L218.9 463.9 L219.4 445.6 L219.9 453.5 L220.4 454.0 L220.9 447.8 L221.4 456.9 L221.9 449.7 L222.4 455.7 L222.9 461.3 L223.4 452.2 L223.9 451.9 L224.4 450.4 L224.9 451.2 L225.4 445.0 L225.9 447.5 L226.4 458.3 L226.9 450.0 L227.4 483.8 L227.9 450.7 L228.4 460.5 L228.9 444.5 L229.4 454.8 L229.9 452.5 L230.4 456.5 L230.9 468.7 L231.4 456.7 L231.9 448.2 L232.4 458.7 L232.9 449.8 L233.4 456.4 L233.9 472.0 L234.4 466.0 L234.9 467.0 L235.4 462.2 L235.9 457.7 L236.4 445.1 L236.9 453.9 L237.4 454.2 L237.9 464.1 L238.4 466.5 L238.9 462.4 L239.4 452.5 L239.9 474.7 L240.4 471.3 L240.9 458.9 L241.4 462.5 L241.9 466.2 L242.4 461.6 L242.9 459.4 L243.4 463.4 L243.9 458.8 L244.4 460.3 L244.9 445.8 L245.4 445.5 L245.9 472.1 L246.4 446.0 L246.9 462.0 L247.4 459.7 L247.9 457.9 L248.4 449.9 L248.9 463.2 L249.4 456.6 L249.9 450.3 L250.4 440.2 L250.9 449.2 L251.4 445.7 L251.9 439.2 L252.4 452.2 L252.9 453.2 L253.4 455.5 L253.9 450.1 L254.4 446.6 L254.9 457.8 L255.4 455.3 L255.9 467.9 L256.4 454.1 L256.9 441.6 L257.4 457.5 L257.9 468.5 L258.4 451.2 L258.9 447.3 L259.4 444.3 L259.9 464.8 L260.4 447.9 L260.9 447.9 L261.4 452.6 L261.9 438.9 L262.4 449.0 L262.9 442.0 L263.4 450.9 L263.9 456.4 L264.4 460.8 L264.9 449.8 L265.4 460.2 L265.9 449.7 L266.4 440.1 L266.9 458.3 L267.4 452.9 L267.9 456.4 L268.4 433.3 L268.9 456.2 L269.4 455.6 L269.9 455.6 L270.4 462.1 L270.9 450.5 L271.4 470.8 L271.9 458.7 L272.4 457.1 L272.9 431.2 L273.4 435.2 L273.9 462.7 L274.4 452.8 L274.9 456.1 L275.4 444.9 L275.9 446.7 L276.4 452.0 L276.9 441.1 L277.4 458.4 L277.9 439.4 L278.4 450.4 L278.9 446.7 L279.4 451.5 L279.9 458.5 L280.4 440.8 L280.9 454.5 L281.4 452.7 L281.9 459.0 L282.4 452.6 L282.9 449.3 L283.4 457.2 L283.9 464.0 L284.4 459.7 L284.9 454.7 L285.4 456.3 L285.9 440.1 L286.4 448.6 L286.9 449.6 L287.4 446.9 L287.9 445.0 L288.4 450.0 L288.9 453.2 L289.4 464.7 L289.9 443.0 L290.4 440.4 L290.9 455.6 L291.4 448.7 L291.9 440.6 L292.4 460.0 L292.9 445.8 L293.4 445.4 L293.9 444.2 L294.4 442.5 L294.9 452.4 L295.4 444.4 L295.9 473.5 L296.4 456.6 L296.9 451.9 L297.4 448.4 L297.9 456.8 L298.4 461.9 L298.9 455.8 L299.4 443.6 L299.9 450.0 L300.4 436.8 L300.9 461.0 L301.4 453.7 L301.9 448.7 L302.4 449.3 L302.9 442.0 L303.4 445.1 L303.9 453.7 L304.4 445.0 L304.9 450.4 L305.4 447.0 L305.9 447.0 L306.4 447.5 L306.9 453.3 L307.4 442.7 L307.9 451.2 L308.4 439.3 L308.9 441.4 L309.4 440.5 L309.9 453.1 L310.4 444.5 L310.9 457.1 L311.4 438.3 L311.9 449.6 L312.4 436.4 L312.9 454.8 L313.4 440.3 L313.9 449.1 L314.4 439.1 L314.9 437.6 L315.4 445.1 L315.9 428.1 L316.4 432.5 L316.9 453.7 L317.4 434.8 L317.9 447.9 L318.4 434.0 L318.9 426.9 L319.4 437.5 L319.9 447.9 L320.4 441.3 L320.9 439.8 L321.4 449.2 L321.9 437.0 L322.4 448.9 L322.9 445.7 L323.4 436.0 L323.9 451.5 L324.4 453.3 L324.9 441.1 L325.4 443.2 L325.9 439.3 L326.4 432.2 L326.9 447.4 L327.4 431.8 L327.9 443.7 L328.4 434.3 L328.9 430.7 L329.4 444.0 L329.9 440.5 L330.4 454.2 L330.9 439.7 L331.4 441.2 L331.9 440.7 L332.4 437.7 L332.9 450.0 L333.4 451.4 L333.9 443.8 L334.4 430.2 L334.9 442.9 L335.4 439.1 L335.9 435.1 L336.4 425.9 L336.9 446.4 L337.4 449.1 L337.9 441.5 L338.4 442.6 L338.9 452.9 L339.4 454.4 L339.9 440.8 L340.4 416.3 L340.9 444.6 L341.4 440.3 L341.9 444.6 L342.4 434.4 L342.9 430.4 L343.4 443.0 L343.9 437.3 L344.4 440.7 L344.9 443.1 L345.4 441.0 L345.9 428.9 L346.4 444.8 L346.9 434.9 L347.4 437.5 L347.9 441.9 L348.4 426.3 L348.9 435.1 L349.4 421.8 L349.9 432.1 L350.4 439.2 L350.9 435.9 L351.4 434.9 L351.9 442.2 L352.4 433.3 L352.9 424.6 L353.4 446.2 L353.9 439.4 L354.4 444.4 L354.9 434.3 L355.4 433.9 L355.9 430.5 L356.4 421.1 L356.9 432.7 L357.4 431.5 L357.9 449.4 L358.4 422.1 L358.9 438.5 L359.4 436.6 L359.9 438.8 L360.4 439.5 L360.9 444.0 L361.4 450.3 L361.9 431.4 L362.4 453.3 L362.9 445.5 L363.4 441.4 L363.9 436.2 L364.4 438.3 L364.9 452.8 L365.4 445.1 L365.9 446.1 L366.4 452.0 L366.9 456.7 L367.4 452.4 L367.9 447.2 L368.4 449.5 L368.9 453.4 L369.4 445.3 L369.9 459.8 L370.4 461.2 L370.9 459.8 L371.4 445.3 L371.9 444.2 L372.4 438.4 L372.9 456.7 L373.4 441.8 L373.9 463.3 L374.4 428.3 L374.9 446.1 L375.4 448.6 L375.9 443.8 L376.4 448.2 L376.9 459.5 L377.4 442.5 L377.9 449.4 L378.4 438.8 L378.9 431.8 L379.4 433.3 L379.9 447.6 L380.4 443.8 L380.9 428.4 L381.4 442.0 L381.9 444.4 L382.4 443.0 L382.9 448.4 L383.4 427.5 L383.9 431.2 L384.4 430.7 L384.9 440.9 L385.4 449.5 L385.9 435.6 L386.4 442.2 L386.9 447.1 L387.4 436.6 L387.9 446.6 L388.4 439.4 L388.9 455.4 L389.4 453.0 L389.9 437.8 L390.4 437.1 L390.9 455.9 L391.4 433.3 L391.9 450.4 L392.4 436.9 L392.9 431.0 L393.4 454.2 L393.9 443.5 L394.4 431.8 L394.9 437.9 L395.4 433.8 L395.9 431.7 L396.4 438.4 L396.9 448.0 L397.4 428.2 L397.9 442.6 L398.4 427.3 L398.9 438.8 L399.4 427.8 L399.9 429.7 L400.4 435.4 L400.9 449.0 L401.4 448.9 L401.9 440.5 L402.4 439.0 L402.9 442.8 L403.4 464.5 L403.9 444.7 L404.4 441.5 L404.9 437.7 L405.4 438.8 L405.9 445.3 L406.4 443.6 L406.9 418.0 L407.4 453.9 L407.9 440.1 L408.4 435.4 L408.9 456.9 L409.4 422.3 L409.9 424.8 L410.4 443.7 L410.9 433.7 L411.4 439.9 L411.9 442.2 L412.4 447.4 L412.9 437.9 L413.4 426.7 L413.9 418.9 L414.4 434.1 L414.9 418.1 L415.4 434.4 L415.9 427.9 L416.4 437.8 L416.9 441.2 L417.4 434.8 L417.9 424.2 L418.4 437.7 L418.9 431.7 L419.4 441.2 L419.9 435.5 L420.4 457.7 L420.9 434.3 L421.4 422.9 L421.9 431.6 L422.4 439.4 L422.9 461.3 L423.4 450.7 L423.9 435.1 L424.4 439.3 L424.9 429.8 L425.4 428.2 L425.9 448.1 L426.4 443.6 L426.9 434.5 L427.4 434.6 L427.9 442.9 L428.4 444.6 L428.9 431.6 L429.4 424.8 L429.9 445.4 L430.4 430.6 L430.9 421.0 L431.4 433.1 L431.9 434.2 L432.4 440.1 L432.9 428.6 L433.4 433.8 L433.9 420.6 L434.4 434.6 L434.9 418.7 L435.4 436.5 L435.9 432.9 L436.4 419.7 L436.9 427.4 L437.4 446.0 L437.9 424.9 L438.4 420.9 L438.9 432.9 L439.4 436.5 L439.9 442.2 L440.4 434.1 L440.9 431.6 L441.4 433.2 L441.9 440.8 L442.4 433.6 L442.9 439.3 L443.4 419.5 L443.9 431.7 L444.4 433.7 L444.9 442.3 L445.4 437.8 L445.9 436.0 L446.4 443.4 L446.9 435.3 L447.4 459.2 L447.9 425.0 L448.4 433.4 L448.9 446.9 L449.4 438.4 L449.9 433.1 L450.4 438.8 L450.9 425.8 L451.4 430.0 L451.9 430.0 L452.4 444.4 L452.9 431.4 L453.4 446.6 L453.9 430.8 L454.4 433.1 L454.9 417.4 L455.4 437.9 L455.9 417.0 L456.4 439.4 L456.9 443.0 L457.4 438.7 L457.9 427.7 L458.4 434.5 L458.9 416.6 L459.4 433.5 L459.9 442.1 L460.4 439.6 L460.9 436.7 L461.4 449.4 L461.9 441.9 L462.4 437.9 L462.9 439.2 L463.4 428.8 L463.9 436.2 L464.4 420.4 L464.9 412.9 L465.4 430.8 L465.9 439.4 L466.4 422.2 L466.9 433.5 L467.4 414.7 L467.9 429.0 L468.4 429.2 L468.9 428.1 L469.4 416.3 L469.9 432.4 L470.4 433.3 L470.9 432.0 L471.4 445.4 L471.9 424.2 L472.4 429.4 L472.9 438.4 L473.4 417.4 L473.9 420.2 L474.4 436.5 L474.9 424.8 L475.4 420.8 L475.9 430.4 L476.4 415.2 L476.9 428.2 L477.4 419.1 L477.9 423.8 L478.4 407.8 L478.9 432.6 L479.4 433.7 L479.9 431.1 L480.4 428.1 L480.9 436.6 L481.4 446.8 L481.9 442.9 L482.4 430.6 L482.9 438.1 L483.4 433.5 L483.9 440.3 L484.4 428.9 L484.9 447.0 L485.4 428.6 L485.9 426.6 L486.4 437.4 L486.9 448.0 L487.4 420.7 L487.9 435.3 L488.4 439.9 L488.9 456.5 L489.4 422.0 L489.9 443.2 L490.4 427.8 L490.9 430.5 L491.4 441.1 L491.9 433.1 L492.4 421.0 L492.9 430.6 L493.4 430.3 L493.9 434.6 L494.4 425.7 L494.9 428.0 L495.4 431.4 L495.9 433.7 L496.4 432.5 L496.9 437.2 L497.4 438.4 L497.9 435.6 L498.4 427.3 L498.9 419.4 L499.4 424.2 L499.9 424.9 L500.4 427.7 L500.9 436.9 L501.4 428.2 L501.9 420.6 L502.4 417.7 L502.9 427.3 L503.4 426.5 L503.9 419.8 L504.4 415.5 L504.9 425.5 L505.4 430.8 L505.9 429.1 L506.4 415.5 L506.9 423.8 L507.4 426.1 L507.9 419.5 L508.4 426.9 L508.9 422.0 L509.4 435.3 L509.9 422.7 L510.4 441.6 L510.9 436.6 L511.4 431.9 L511.9 431.9" fill="none" stroke="#fdae69" stroke-opacity="0.9" stroke-width="1.1" stroke-linejoin="round" clip-path="url(#clipc)"/>
<path d="M66.4 654.0 L66.9 626.2 L67.4 598.4 L67.9 570.6 L68.4 542.8 L68.9 515.0 L69.4 509.5 L69.9 503.7 L70.4 495.0 L70.9 485.8 L71.4 475.7 L71.9 499.5 L72.4 486.7 L72.9 506.5 L73.4 492.3 L73.9 486.4 L74.4 478.9 L74.9 495.1 L75.4 479.6 L75.9 496.0 L76.4 480.3 L76.9 485.4 L77.4 471.4 L77.9 502.6 L78.4 483.2 L78.9 480.9 L79.4 491.4 L79.9 477.9 L80.4 491.8 L80.9 475.9 L81.4 490.1 L81.9 477.1 L82.4 471.5 L82.9 481.9 L83.4 475.0 L83.9 491.2 L84.4 487.1 L84.9 491.5 L85.4 488.4 L85.9 485.3 L86.4 488.1 L86.9 497.1 L87.4 487.3 L87.9 483.5 L88.4 482.1 L88.9 487.9 L89.4 484.4 L89.9 506.3 L90.4 482.3 L90.9 483.6 L91.4 490.5 L91.9 499.4 L92.4 491.1 L92.9 485.5 L93.4 487.1 L93.9 490.8 L94.4 501.1 L94.9 484.0 L95.4 490.3 L95.9 484.9 L96.4 492.3 L96.9 492.2 L97.4 475.9 L97.9 507.2 L98.4 488.5 L98.9 481.8 L99.4 478.3 L99.9 482.8 L100.4 484.5 L100.9 489.0 L101.4 483.7 L101.9 487.1 L102.4 469.0 L102.9 476.1 L103.4 473.1 L103.9 482.4 L104.4 485.5 L104.9 469.0 L105.4 479.1 L105.9 485.7 L106.4 486.1 L106.9 468.0 L107.4 481.1 L107.9 478.0 L108.4 470.9 L108.9 489.9 L109.4 462.2 L109.9 468.4 L110.4 473.2 L110.9 471.1 L111.4 466.6 L111.9 479.2 L112.4 479.5 L112.9 475.5 L113.4 475.2 L113.9 466.5 L114.4 457.5 L114.9 486.1 L115.4 460.7 L115.9 487.5 L116.4 467.4 L116.9 470.6 L117.4 468.2 L117.9 477.3 L118.4 466.4 L118.9 486.2 L119.4 476.1 L119.9 473.4 L120.4 466.7 L120.9 473.4 L121.4 472.1 L121.9 487.4 L122.4 480.8 L122.9 460.4 L123.4 486.5 L123.9 454.0 L124.4 487.8 L124.9 458.6 L125.4 475.6 L125.9 482.9 L126.4 476.2 L126.9 466.8 L127.4 486.4 L127.9 460.5 L128.4 463.8 L128.9 488.0 L129.4 468.5 L129.9 478.9 L130.4 483.4 L130.9 476.0 L131.4 478.4 L131.9 477.3 L132.4 479.5 L132.9 488.5 L133.4 486.2 L133.9 481.8 L134.4 486.7 L134.9 473.7 L135.4 472.4 L135.9 471.0 L136.4 486.6 L136.9 494.8 L137.4 481.9 L137.9 464.2 L138.4 476.6 L138.9 485.1 L139.4 484.5 L139.9 483.3 L140.4 491.0 L140.9 491.1 L141.4 471.2 L141.9 485.7 L142.4 474.5 L142.9 482.8 L143.4 491.5 L143.9 495.7 L144.4 484.7 L144.9 474.3 L145.4 475.5 L145.9 483.0 L146.4 470.0 L146.9 478.4 L147.4 485.2 L147.9 487.2 L148.4 477.0 L148.9 483.0 L149.4 491.9 L149.9 483.4 L150.4 466.9 L150.9 484.9 L151.4 486.0 L151.9 479.2 L152.4 483.6 L152.9 469.8 L153.4 492.9 L153.9 485.6 L154.4 476.7 L154.9 483.3 L155.4 481.9 L155.9 474.1 L156.4 458.0 L156.9 455.3 L157.4 497.6 L157.9 470.0 L158.4 476.9 L158.9 484.0 L159.4 474.8 L159.9 488.9 L160.4 469.5 L160.9 482.5 L161.4 458.8 L161.9 482.9 L162.4 481.7 L162.9 477.5 L163.4 475.4 L163.9 475.8 L164.4 480.9 L164.9 481.4 L165.4 464.9 L165.9 482.6 L166.4 465.6 L166.9 476.1 L167.4 473.0 L167.9 479.8 L168.4 473.3 L168.9 480.6 L169.4 473.0 L169.9 468.6 L170.4 486.2 L170.9 481.8 L171.4 480.4 L171.9 482.3 L172.4 463.1 L172.9 478.2 L173.4 459.7 L173.9 470.5 L174.4 464.0 L174.9 466.9 L175.4 469.3 L175.9 461.8 L176.4 452.6 L176.9 468.8 L177.4 470.6 L177.9 465.7 L178.4 468.6 L178.9 443.5 L179.4 460.5 L179.9 458.5 L180.4 442.2 L180.9 460.6 L181.4 459.8 L181.9 446.3 L182.4 452.0 L182.9 460.0 L183.4 465.6 L183.9 467.6 L184.4 451.9 L184.9 452.9 L185.4 457.8 L185.9 463.1 L186.4 459.4 L186.9 463.4 L187.4 473.4 L187.9 474.2 L188.4 469.7 L188.9 457.6 L189.4 463.2 L189.9 472.8 L190.4 475.4 L190.9 475.9 L191.4 455.0 L191.9 459.1 L192.4 450.9 L192.9 434.1 L193.4 449.5 L193.9 442.4 L194.4 470.3 L194.9 461.6 L195.4 450.4 L195.9 456.6 L196.4 459.4 L196.9 472.0 L197.4 464.1 L197.9 470.1 L198.4 461.1 L198.9 468.5 L199.4 469.5 L199.9 465.3 L200.4 457.1 L200.9 468.2 L201.4 455.0 L201.9 472.1 L202.4 457.6 L202.9 454.1 L203.4 478.2 L203.9 458.9 L204.4 465.1 L204.9 453.9 L205.4 458.0 L205.9 461.7 L206.4 455.9 L206.9 476.3 L207.4 458.6 L207.9 452.5 L208.4 473.1 L208.9 468.3 L209.4 439.7 L209.9 455.3 L210.4 468.6 L210.9 452.0 L211.4 456.1 L211.9 456.1 L212.4 437.5 L212.9 449.6 L213.4 466.1 L213.9 472.0 L214.4 458.1 L214.9 458.4 L215.4 465.5 L215.9 461.1 L216.4 464.3 L216.9 452.6 L217.4 459.7 L217.9 463.2 L218.4 462.9 L218.9 441.4 L219.4 461.7 L219.9 454.2 L220.4 454.0 L220.9 435.2 L221.4 450.2 L221.9 435.1 L222.4 426.3 L222.9 449.6 L223.4 449.0 L223.9 450.1 L224.4 451.6 L224.9 451.3 L225.4 460.8 L225.9 458.2 L226.4 466.5 L226.9 475.3 L227.4 458.5 L227.9 458.3 L228.4 468.3 L228.9 442.0 L229.4 446.9 L229.9 452.8 L230.4 436.4 L230.9 459.5 L231.4 464.9 L231.9 439.5 L232.4 443.9 L232.9 460.1 L233.4 465.2 L233.9 438.1 L234.4 458.1 L234.9 451.8 L235.4 437.2 L235.9 450.6 L236.4 450.0 L236.9 455.4 L237.4 455.4 L237.9 453.9 L238.4 455.5 L238.9 455.7 L239.4 462.3 L239.9 467.4 L240.4 466.5 L240.9 449.1 L241.4 449.5 L241.9 449.0 L242.4 467.8 L242.9 458.2 L243.4 446.2 L243.9 442.5 L244.4 442.8 L244.9 451.8 L245.4 441.6 L245.9 451.8 L246.4 464.3 L246.9 450.8 L247.4 460.8 L247.9 439.6 L248.4 456.5 L248.9 456.9 L249.4 446.3 L249.9 466.6 L250.4 453.5 L250.9 446.5 L251.4 449.5 L251.9 459.8 L252.4 438.0 L252.9 451.6 L253.4 440.5 L253.9 450.5 L254.4 441.7 L254.9 444.6 L255.4 452.1 L255.9 444.7 L256.4 449.2 L256.9 449.8 L257.4 446.2 L257.9 444.6 L258.4 442.9 L258.9 448.0 L259.4 453.0 L259.9 458.2 L260.4 457.2 L260.9 430.9 L261.4 442.2 L261.9 444.0 L262.4 450.2 L262.9 448.4 L263.4 426.6 L263.9 441.7 L264.4 424.4 L264.9 436.4 L265.4 433.0 L265.9 436.5 L266.4 456.7 L266.9 438.2 L267.4 438.8 L267.9 445.0 L268.4 454.3 L268.9 429.4 L269.4 459.7 L269.9 437.4 L270.4 434.8 L270.9 444.7 L271.4 449.4 L271.9 467.6 L272.4 450.8 L272.9 438.2 L273.4 440.9 L273.9 434.0 L274.4 448.5 L274.9 450.0 L275.4 438.2 L275.9 451.8 L276.4 427.0 L276.9 438.1 L277.4 434.7 L277.9 438.7 L278.4 431.0 L278.9 455.6 L279.4 438.2 L279.9 446.0 L280.4 458.4 L280.9 463.2 L281.4 459.5 L281.9 428.8 L282.4 446.1 L282.9 444.8 L283.4 441.3 L283.9 439.4 L284.4 440.9 L284.9 449.9 L285.4 440.7 L285.9 432.5 L286.4 429.3 L286.9 445.0 L287.4 429.5 L287.9 451.3 L288.4 440.1 L288.9 439.3 L289.4 445.4 L289.9 439.8 L290.4 449.6 L290.9 432.0 L291.4 427.4 L291.9 462.1 L292.4 445.1 L292.9 419.7 L293.4 459.2 L293.9 430.4 L294.4 461.9 L294.9 459.3 L295.4 450.0 L295.9 441.9 L296.4 432.6 L296.9 449.1 L297.4 435.4 L297.9 448.3 L298.4 435.7 L298.9 422.7 L299.4 428.9 L299.9 436.0 L300.4 430.1 L300.9 435.8 L301.4 425.9 L301.9 449.3 L302.4 429.2 L302.9 437.7 L303.4 418.0 L303.9 440.1 L304.4 447.0 L304.9 437.7 L305.4 429.9 L305.9 423.4 L306.4 437.7 L306.9 438.3 L307.4 422.0 L307.9 434.5 L308.4 440.1 L308.9 428.6 L309.4 442.1 L309.9 434.1 L310.4 449.9 L310.9 426.5 L311.4 443.2 L311.9 440.2 L312.4 423.0 L312.9 432.8 L313.4 434.7 L313.9 451.1 L314.4 440.1 L314.9 444.0 L315.4 444.3 L315.9 466.3 L316.4 440.0 L316.9 459.1 L317.4 439.2 L317.9 425.7 L318.4 432.0 L318.9 426.5 L319.4 433.4 L319.9 422.3 L320.4 426.3 L320.9 450.8 L321.4 434.9 L321.9 435.0 L322.4 449.7 L322.9 419.0 L323.4 439.5 L323.9 429.4 L324.4 432.8 L324.9 427.2 L325.4 434.4 L325.9 444.4 L326.4 444.6 L326.9 436.1 L327.4 442.4 L327.9 425.1 L328.4 409.2 L328.9 446.2 L329.4 454.4 L329.9 441.2 L330.4 431.3 L330.9 436.9 L331.4 447.2 L331.9 424.9 L332.4 437.1 L332.9 442.1 L333.4 427.5 L333.9 455.7 L334.4 442.8 L334.9 448.7 L335.4 423.8 L335.9 435.4 L336.4 446.6 L336.9 435.9 L337.4 442.5 L337.9 413.9 L338.4 429.0 L338.9 412.1 L339.4 426.4 L339.9 434.3 L340.4 432.7 L340.9 423.5 L341.4 439.9 L341.9 444.4 L342.4 439.5 L342.9 449.5 L343.4 453.3 L343.9 455.4 L344.4 441.1 L344.9 449.0 L345.4 437.6 L345.9 441.8 L346.4 452.5 L346.9 441.1 L347.4 437.1 L347.9 435.6 L348.4 444.9 L348.9 454.0 L349.4 447.3 L349.9 436.2 L350.4 445.2 L350.9 446.1 L351.4 449.9 L351.9 429.8 L352.4 441.2 L352.9 431.5 L353.4 429.4 L353.9 444.4 L354.4 437.0 L354.9 432.8 L355.4 444.5 L355.9 433.2 L356.4 423.1 L356.9 439.3 L357.4 423.2 L357.9 424.4 L358.4 428.0 L358.9 430.5 L359.4 440.5 L359.9 429.6 L360.4 417.5 L360.9 429.2 L361.4 438.0 L361.9 435.2 L362.4 436.0 L362.9 426.6 L363.4 435.0 L363.9 443.6 L364.4 444.1 L364.9 430.9 L365.4 432.2 L365.9 430.3 L366.4 446.7 L366.9 430.0 L367.4 434.0 L367.9 428.9 L368.4 427.9 L368.9 434.3 L369.4 443.5 L369.9 429.9 L370.4 445.6 L370.9 434.7 L371.4 441.5 L371.9 456.6 L372.4 454.8 L372.9 437.5 L373.4 435.8 L373.9 434.1 L374.4 442.4 L374.9 418.7 L375.4 429.6 L375.9 434.7 L376.4 429.4 L376.9 427.7 L377.4 448.8 L377.9 423.7 L378.4 433.1 L378.9 432.4 L379.4 432.6 L379.9 427.0 L380.4 443.2 L380.9 434.8 L381.4 450.1 L381.9 421.1 L382.4 434.1 L382.9 420.8 L383.4 434.1 L383.9 443.7 L384.4 422.2 L384.9 441.6 L385.4 424.7 L385.9 421.8 L386.4 434.0 L386.9 437.9 L387.4 432.5 L387.9 434.6 L388.4 431.1 L388.9 426.4 L389.4 411.2 L389.9 426.9 L390.4 424.6 L390.9 435.4 L391.4 423.0 L391.9 448.6 L392.4 435.4 L392.9 425.7 L393.4 435.9 L393.9 427.8 L394.4 441.4 L394.9 425.9 L395.4 441.9 L395.9 417.7 L396.4 428.4 L396.9 426.5 L397.4 419.1 L397.9 424.0 L398.4 428.4 L398.9 417.9 L399.4 421.4 L399.9 434.4 L400.4 423.7 L400.9 445.9 L401.4 446.5 L401.9 428.7 L402.4 436.1 L402.9 438.1 L403.4 440.2 L403.9 428.1 L404.4 439.0 L404.9 427.6 L405.4 430.6" fill="none" stroke="#f97262" stroke-opacity="0.9" stroke-width="1.1" stroke-linejoin="round" clip-path="url(#clipc)"/>
<rect x="44" y="394" width="2" height="272" fill="#dcdcdc"/>
<rect x="534" y="394" width="1" height="272" fill="#6a6a6a"/>
<rect x="44" y="394" width="491" height="1" fill="#9e9e9e"/>
<rect x="44" y="665" width="491" height="1" fill="#8a8a8a"/>
<line x1="66.4" y1="665.3" x2="66.4" y2="667.9" stroke="#707070" stroke-width="1"/>
<text x="66.4" y="680.7" font-size="16.4" text-anchor="middle" textLength="9.5" lengthAdjust="spacingAndGlyphs" fill="#111">0</text>
<line x1="154.4" y1="665.3" x2="154.4" y2="667.9" stroke="#707070" stroke-width="1"/>
<text x="154.4" y="680.7" font-size="16.4" text-anchor="middle" textLength="38.2" lengthAdjust="spacingAndGlyphs" fill="#111">1000</text>
<line x1="242.5" y1="665.3" x2="242.5" y2="667.9" stroke="#707070" stroke-width="1"/>
<text x="242.5" y="680.7" font-size="16.4" text-anchor="middle" textLength="38.2" lengthAdjust="spacingAndGlyphs" fill="#111">2000</text>
<line x1="330.5" y1="665.3" x2="330.5" y2="667.9" stroke="#707070" stroke-width="1"/>
<text x="330.5" y="680.7" font-size="16.4" text-anchor="middle" textLength="38.2" lengthAdjust="spacingAndGlyphs" fill="#111">3000</text>
<line x1="418.5" y1="665.3" x2="418.5" y2="667.9" stroke="#707070" stroke-width="1"/>
<text x="418.5" y="680.7" font-size="16.4" text-anchor="middle" textLength="38.2" lengthAdjust="spacingAndGlyphs" fill="#111">4000</text>
<line x1="506.5" y1="665.3" x2="506.5" y2="667.9" stroke="#707070" stroke-width="1"/>
<text x="506.5" y="680.7" font-size="16.4" text-anchor="middle" textLength="38.2" lengthAdjust="spacingAndGlyphs" fill="#111">5000</text>
<line x1="42.0" y1="654.4" x2="45.0" y2="654.4" stroke="#707070" stroke-width="1"/>
<text x="39.7" y="659.9" font-size="16.4" text-anchor="end" textLength="23.8" lengthAdjust="spacingAndGlyphs" fill="#111">0.0</text>
<line x1="42.0" y1="623.0" x2="45.0" y2="623.0" stroke="#707070" stroke-width="1"/>
<text x="39.7" y="628.5" font-size="16.4" text-anchor="end" textLength="23.8" lengthAdjust="spacingAndGlyphs" fill="#111">0.1</text>
<line x1="42.0" y1="591.6" x2="45.0" y2="591.6" stroke="#707070" stroke-width="1"/>
<text x="39.7" y="597.1" font-size="16.4" text-anchor="end" textLength="23.8" lengthAdjust="spacingAndGlyphs" fill="#111">0.2</text>
<line x1="42.0" y1="560.2" x2="45.0" y2="560.2" stroke="#707070" stroke-width="1"/>
<text x="39.7" y="565.7" font-size="16.4" text-anchor="end" textLength="23.8" lengthAdjust="spacingAndGlyphs" fill="#111">0.3</text>
<line x1="42.0" y1="528.8" x2="45.0" y2="528.8" stroke="#707070" stroke-width="1"/>
<text x="39.7" y="534.3" font-size="16.4" text-anchor="end" textLength="23.8" lengthAdjust="spacingAndGlyphs" fill="#111">0.4</text>
<line x1="42.0" y1="497.3" x2="45.0" y2="497.3" stroke="#707070" stroke-width="1"/>
<text x="39.7" y="502.8" font-size="16.4" text-anchor="end" textLength="23.8" lengthAdjust="spacingAndGlyphs" fill="#111">0.5</text>
<line x1="42.0" y1="465.9" x2="45.0" y2="465.9" stroke="#707070" stroke-width="1"/>
<text x="39.7" y="471.4" font-size="16.4" text-anchor="end" textLength="23.8" lengthAdjust="spacingAndGlyphs" fill="#111">0.6</text>
<line x1="42.0" y1="434.5" x2="45.0" y2="434.5" stroke="#707070" stroke-width="1"/>
<text x="39.7" y="440.0" font-size="16.4" text-anchor="end" textLength="23.8" lengthAdjust="spacingAndGlyphs" fill="#111">0.7</text>
<line x1="42.0" y1="403.1" x2="45.0" y2="403.1" stroke="#707070" stroke-width="1"/>
<text x="39.7" y="408.6" font-size="16.4" text-anchor="end" textLength="23.8" lengthAdjust="spacingAndGlyphs" fill="#111">0.8</text>
<text x="289.7" y="384.9" font-size="21.5" text-anchor="middle" font-weight="bold" textLength="180.0" lengthAdjust="spacingAndGlyphs" fill="#111">(c) Mean Reward</text>
<path d="M606.1 490.0 L606.6 491.9 L607.1 490.8 L607.6 496.9 L608.1 493.2 L608.6 494.5 L609.1 498.6 L609.6 497.9 L610.1 494.5 L610.6 488.1 L611.1 485.8 L611.6 484.7 L612.1 486.6 L612.6 487.5 L613.1 480.7 L613.6 478.3 L614.1 485.9 L614.6 470.7 L615.1 479.8 L615.6 482.6 L616.1 473.2 L616.6 471.2 L617.1 472.0 L617.6 479.3 L618.1 472.4 L618.6 459.8 L619.1 470.2 L619.6 482.0 L620.1 484.6 L620.6 485.5 L621.1 482.3 L621.6 474.4 L622.1 489.3 L622.6 489.1 L623.1 492.1 L623.6 503.1 L624.1 496.9 L624.6 499.2 L625.1 502.9 L625.6 499.9 L626.1 499.8 L626.6 502.3 L627.1 515.2 L627.6 517.8 L628.1 516.3 L628.6 532.0 L629.1 531.1 L629.6 526.7 L630.1 545.1 L630.6 546.3 L631.1 538.3 L631.6 547.9 L632.1 539.9 L632.6 537.5 L633.1 541.7 L633.6 521.9 L634.1 525.6 L634.6 529.7 L635.1 533.2 L635.6 526.2 L636.1 522.8 L636.6 521.6 L637.1 526.1 L637.6 529.5 L638.1 514.9 L638.6 509.0 L639.1 518.7 L639.6 516.1 L640.1 510.9 L640.6 519.1 L641.1 518.8 L641.6 508.6 L642.1 508.5 L642.6 512.9 L643.1 504.2 L643.6 497.7 L644.1 507.9 L644.6 503.6 L645.1 512.1 L645.6 508.2 L646.1 511.5 L646.6 517.1 L647.1 514.6 L647.6 513.0 L648.1 512.0 L648.6 531.0 L649.1 528.5 L649.6 512.5 L650.1 516.2 L650.6 528.0 L651.1 520.1 L651.6 524.4 L652.1 530.2 L652.6 526.2 L653.1 524.9 L653.6 523.5 L654.1 526.3 L654.6 530.0 L655.1 540.0 L655.6 537.2 L656.1 529.0 L656.6 536.9 L657.1 532.6 L657.6 523.2 L658.1 533.6 L658.6 541.7 L659.1 532.5 L659.6 543.0 L660.1 535.8 L660.6 538.4 L661.1 531.6 L661.6 554.6 L662.1 544.7 L662.6 548.9 L663.1 540.1 L663.6 533.7 L664.1 551.5 L664.6 539.6 L665.1 556.1 L665.6 544.8 L666.1 557.6 L666.6 542.7 L667.1 536.4 L667.6 552.5 L668.1 548.5 L668.6 549.2 L669.1 556.3 L669.6 543.6 L670.1 540.5 L670.6 542.1 L671.1 538.5 L671.6 538.1 L672.1 541.7 L672.6 544.5 L673.1 547.6 L673.6 541.9 L674.1 548.5 L674.6 554.0 L675.1 546.7 L675.6 551.5 L676.1 542.2 L676.6 549.7 L677.1 550.4 L677.6 542.6 L678.1 536.3 L678.6 544.6 L679.1 545.8 L679.6 555.2 L680.1 543.2 L680.6 557.2 L681.1 531.9 L681.6 546.2 L682.1 545.4 L682.6 546.6 L683.1 546.3 L683.6 550.1 L684.1 560.8 L684.6 549.0 L685.1 558.2 L685.6 550.6 L686.1 552.9 L686.6 536.5 L687.1 553.5 L687.6 557.0 L688.1 545.5 L688.6 548.9 L689.1 547.3 L689.6 566.9 L690.1 546.8 L690.6 548.7 L691.1 536.1 L691.6 544.3 L692.1 556.7 L692.6 547.4 L693.1 537.4 L693.6 553.8 L694.1 556.5 L694.6 557.4 L695.1 558.2 L695.6 551.0 L696.1 573.6 L696.6 550.6 L697.1 556.7 L697.6 544.1 L698.1 547.5 L698.6 541.1 L699.1 551.7 L699.6 546.6 L700.1 542.2 L700.6 535.6 L701.1 551.8 L701.6 553.5 L702.1 553.0 L702.6 547.1 L703.1 552.0 L703.6 553.3 L704.1 549.9 L704.6 555.8 L705.1 544.9 L705.6 547.5 L706.1 536.3 L706.6 560.3 L707.1 541.0 L707.6 548.5 L708.1 550.7 L708.6 541.5 L709.1 546.9 L709.6 551.8 L710.1 546.7 L710.6 544.9 L711.1 544.8 L711.6 541.6 L712.1 544.7 L712.6 547.0 L713.1 547.8 L713.6 551.4 L714.1 544.2 L714.6 540.1 L715.1 549.0 L715.6 545.8 L716.1 550.8 L716.6 546.4 L717.1 548.8 L717.6 548.1 L718.1 550.2 L718.6 539.4 L719.1 545.3 L719.6 547.2 L720.1 557.9 L720.6 545.5 L721.1 548.6 L721.6 544.0 L722.1 531.5 L722.6 553.6 L723.1 549.7 L723.6 553.8 L724.1 536.4 L724.6 547.3 L725.1 546.5 L725.6 534.9 L726.1 548.5 L726.6 542.1 L727.1 550.0 L727.6 536.7 L728.1 542.1 L728.6 543.1 L729.1 538.2 L729.6 548.8 L730.1 557.2 L730.6 548.0 L731.1 551.8 L731.6 556.9 L732.1 549.4 L732.6 542.5 L733.1 530.8 L733.6 545.3 L734.1 539.4 L734.6 537.5 L735.1 544.3 L735.6 541.9 L736.1 526.7 L736.6 539.2 L737.1 535.2 L737.6 543.5 L738.1 538.4 L738.6 545.0 L739.1 534.8 L739.6 536.1 L740.1 535.7 L740.6 538.6 L741.1 538.4 L741.6 548.5 L742.1 535.1 L742.6 543.3 L743.1 536.3 L743.6 535.6 L744.1 542.5 L744.6 537.8 L745.1 550.6 L745.6 544.5 L746.1 545.6 L746.6 552.2 L747.1 559.4 L747.6 545.0 L748.1 534.7 L748.6 544.4 L749.1 546.4 L749.6 553.0 L750.1 543.7 L750.6 537.1 L751.1 547.8 L751.6 547.8 L752.1 538.0 L752.6 541.7 L753.1 543.0 L753.6 559.1 L754.1 538.9 L754.6 540.6 L755.1 543.3 L755.6 549.5 L756.1 543.1 L756.6 549.0 L757.1 552.0 L757.6 559.8 L758.1 546.9 L758.6 546.8 L759.1 547.7 L759.6 538.4 L760.1 543.5 L760.6 552.2 L761.1 552.1 L761.6 568.1 L762.1 558.8 L762.6 555.1 L763.1 559.3 L763.6 545.4 L764.1 546.4 L764.6 545.0 L765.1 548.8 L765.6 563.7 L766.1 547.5 L766.6 544.5 L767.1 549.4 L767.6 554.6 L768.1 553.2 L768.6 556.4 L769.1 542.5 L769.6 544.9 L770.1 549.1 L770.6 550.0 L771.1 557.6 L771.6 539.0 L772.1 551.3 L772.6 544.7 L773.1 548.7 L773.6 539.3 L774.1 533.2 L774.6 549.6 L775.1 543.0 L775.6 527.2 L776.1 543.7 L776.6 532.5 L777.1 538.9 L777.6 540.4 L778.1 531.3 L778.6 548.2 L779.1 537.8 L779.6 553.0 L780.1 546.2 L780.6 546.1 L781.1 545.4 L781.6 557.3 L782.1 537.1 L782.6 539.1 L783.1 540.1 L783.6 552.5 L784.1 552.2 L784.6 545.9 L785.1 548.1 L785.6 535.4 L786.1 557.2 L786.6 546.0 L787.1 548.4 L787.6 546.3 L788.1 554.0 L788.6 548.1 L789.1 549.9 L789.6 549.5 L790.1 546.1 L790.6 545.0 L791.1 551.2 L791.6 551.1 L792.1 552.5 L792.6 556.9 L793.1 537.9 L793.6 532.8 L794.1 541.1 L794.6 551.4 L795.1 540.9 L795.6 528.0 L796.1 549.7 L796.6 541.6 L797.1 527.9 L797.6 533.6 L798.1 540.8 L798.6 537.5 L799.1 541.4 L799.6 547.5 L800.1 544.7 L800.6 555.3 L801.1 545.8 L801.6 558.2 L802.1 544.5 L802.6 541.2 L803.1 535.7 L803.6 544.2 L804.1 550.6 L804.6 556.9 L805.1 527.8 L805.6 551.3 L806.1 545.6 L806.6 557.8 L807.1 550.5 L807.6 556.3 L808.1 567.4 L808.6 556.0 L809.1 554.7 L809.6 562.2 L810.1 557.8 L810.6 555.2 L811.1 546.2 L811.6 553.7 L812.1 544.8 L812.6 557.7 L813.1 560.7 L813.6 557.7 L814.1 569.7 L814.6 549.9 L815.1 560.5 L815.6 558.1 L816.1 550.6 L816.6 562.1 L817.1 564.4 L817.6 566.0 L818.1 557.8 L818.6 562.4 L819.1 553.9 L819.6 568.3 L820.1 570.5 L820.6 560.1 L821.1 559.7 L821.6 550.9 L822.1 558.7 L822.6 555.8 L823.1 560.1 L823.6 549.7 L824.1 570.8 L824.6 560.7 L825.1 566.5 L825.6 562.2 L826.1 556.4 L826.6 571.4 L827.1 566.2 L827.6 548.3 L828.1 557.2 L828.6 555.7 L829.1 551.1 L829.6 571.1 L830.1 547.3 L830.6 565.5 L831.1 542.7 L831.6 563.1 L832.1 549.5 L832.6 537.2 L833.1 553.6 L833.6 555.5 L834.1 545.8 L834.6 559.8 L835.1 541.3 L835.6 560.3 L836.1 557.4 L836.6 565.8 L837.1 552.2 L837.6 560.9 L838.1 552.1 L838.6 562.9 L839.1 559.3 L839.6 563.8 L840.1 550.8 L840.6 563.1 L841.1 562.9 L841.6 570.4 L842.1 558.9 L842.6 560.5 L843.1 567.3 L843.6 566.9 L844.1 547.2 L844.6 562.0 L845.1 570.2 L845.6 562.1 L846.1 552.5 L846.6 562.8 L847.1 565.5 L847.6 559.1 L848.1 567.0 L848.6 559.3 L849.1 564.9 L849.6 567.0 L850.1 578.5 L850.6 567.3 L851.1 573.1 L851.6 565.5 L852.1 555.8 L852.6 554.6 L853.1 567.0 L853.6 550.3 L854.1 549.3 L854.6 566.2 L855.1 553.8 L855.6 551.6 L856.1 570.6 L856.6 554.2 L857.1 564.7 L857.6 561.3 L858.1 562.3 L858.6 561.9 L859.1 568.8 L859.6 573.1 L860.1 556.2 L860.6 571.9 L861.1 559.5 L861.6 559.3 L862.1 564.4 L862.6 556.0 L863.1 552.3 L863.6 567.9 L864.1 553.6 L864.6 543.3 L865.1 535.3 L865.6 559.3 L866.1 556.5 L866.6 568.8 L867.1 549.4 L867.6 548.6 L868.1 556.3 L868.6 563.9 L869.1 563.2 L869.6 552.7 L870.1 547.7 L870.6 551.9 L871.1 559.5 L871.6 546.8 L872.1 543.9 L872.6 549.4 L873.1 547.9 L873.6 546.9 L874.1 559.3 L874.6 550.2 L875.1 546.9 L875.6 544.2 L876.1 545.4 L876.6 551.1 L877.1 553.3 L877.6 545.2 L878.1 546.6 L878.6 548.9 L879.1 545.1 L879.6 559.8 L880.1 547.4 L880.6 555.6 L881.1 561.9 L881.6 548.9 L882.1 549.6 L882.6 554.8 L883.1 559.8 L883.6 557.5 L884.1 556.2 L884.6 563.6 L885.1 551.2 L885.6 549.6 L886.1 558.5 L886.6 554.1 L887.1 559.1 L887.6 559.9 L888.1 544.8 L888.6 537.8 L889.1 554.6 L889.6 551.0 L890.1 553.0 L890.6 545.6 L891.1 557.7 L891.6 550.6 L892.1 556.1 L892.6 558.8 L893.1 554.1 L893.6 553.3 L894.1 550.5 L894.6 573.7 L895.1 546.0 L895.6 560.4 L896.1 546.2 L896.6 551.2 L897.1 566.8 L897.6 552.9 L898.1 565.3 L898.6 556.1 L899.1 564.4 L899.6 549.3 L900.1 551.4 L900.6 569.2 L901.1 562.5 L901.6 553.2 L902.1 557.9 L902.6 543.1 L903.1 560.0 L903.6 554.2 L904.1 557.5 L904.6 574.6 L905.1 561.5 L905.6 561.6 L906.1 558.5 L906.6 570.6 L907.1 570.0 L907.6 560.8 L908.1 555.3 L908.6 564.6 L909.1 565.5 L909.6 550.9 L910.1 570.8 L910.6 556.5 L911.1 563.0 L911.6 556.3 L912.1 555.7 L912.6 565.9 L913.1 559.8 L913.6 548.7 L914.1 560.4 L914.6 562.8 L915.1 555.4 L915.6 562.8 L916.1 547.8 L916.6 560.3 L917.1 554.6 L917.6 553.4 L918.1 560.6 L918.6 555.6 L919.1 548.7 L919.6 554.0 L920.1 545.2 L920.6 553.4 L921.1 559.5 L921.6 559.6 L922.1 548.1 L922.6 551.5 L923.1 558.5 L923.6 559.3 L924.1 551.0 L924.6 558.6 L925.1 560.9 L925.6 569.0 L926.1 561.2 L926.6 559.3 L927.1 553.1 L927.6 552.1 L928.1 568.3 L928.6 562.8 L929.1 559.1 L929.6 568.9 L930.1 566.0 L930.6 561.4 L931.1 566.5 L931.6 558.5 L932.1 565.8 L932.6 562.9 L933.1 556.8 L933.6 555.5 L934.1 552.1 L934.6 562.8 L935.1 555.3 L935.6 548.1 L936.1 559.6 L936.6 557.7 L937.1 554.5 L937.6 556.2 L938.1 552.4 L938.6 551.5 L939.1 561.3 L939.6 548.6 L940.1 546.3 L940.6 547.6 L941.1 562.8 L941.6 550.2 L942.1 555.4 L942.6 552.9 L943.1 550.9 L943.6 556.4 L944.1 556.7 L944.6 569.7 L945.1 553.5 L945.6 556.9 L946.1 567.8 L946.6 562.9 L947.1 557.0 L947.6 559.5 L948.1 552.3 L948.6 558.1 L949.1 554.1 L949.6 546.5 L950.1 564.0 L950.6 552.6 L951.1 557.2 L951.6 550.2 L952.1 545.7 L952.6 543.6 L953.1 533.8 L953.6 560.2 L954.1 545.4 L954.6 553.6 L955.1 557.8 L955.6 548.2 L956.1 554.5 L956.6 561.7 L957.1 557.6 L957.6 563.6 L958.1 541.8 L958.6 563.4 L959.1 564.6 L959.6 549.1 L960.1 563.2 L960.6 554.8 L961.1 555.2 L961.6 560.4 L962.1 545.6 L962.6 560.5 L963.1 548.8 L963.6 558.3 L964.1 552.5 L964.6 553.0 L965.1 545.1 L965.6 549.7 L966.1 541.1 L966.6 544.0 L967.1 538.7 L967.6 548.0 L968.1 541.7 L968.6 563.7 L969.1 542.8 L969.6 533.9 L970.1 556.2 L970.6 547.0 L971.1 553.4 L971.6 550.4 L972.1 545.0 L972.6 545.8 L973.1 542.7 L973.6 559.3 L974.1 554.7 L974.6 541.7 L975.1 558.2 L975.6 555.8 L976.1 540.8 L976.6 546.9 L977.1 555.7 L977.6 555.0 L978.1 567.3 L978.6 553.0 L979.1 558.8 L979.6 548.4 L980.1 551.2 L980.6 551.7 L981.1 550.3 L981.6 552.2 L982.1 551.7 L982.6 539.1 L983.1 554.5 L983.6 542.5 L984.1 556.2 L984.6 556.3 L985.1 557.9 L985.6 550.3 L986.1 557.0 L986.6 560.9 L987.1 552.8 L987.6 547.3 L988.1 570.0 L988.6 557.9 L989.1 557.0 L989.6 554.6 L990.1 553.5 L990.6 545.3 L991.1 557.1 L991.6 558.1 L992.1 559.6 L992.6 579.0 L993.1 565.7 L993.6 564.4 L994.1 567.2 L994.6 561.9 L995.1 576.1 L995.6 575.6 L996.1 562.0 L996.6 573.3 L997.1 570.3 L997.6 582.8" fill="none" stroke="#1f77b4" stroke-opacity="0.6" stroke-width="1.1" stroke-linejoin="round" clip-path="url(#clipd)"/>
<path d="M605.7 407.6 L606.2 427.9 L606.7 453.5 L607.2 485.6 L607.7 521.5 L608.2 556.3 L608.7 573.2 L609.2 568.5 L609.7 569.8 L610.2 554.7 L610.7 570.4 L611.2 560.2 L611.7 562.7 L612.2 557.7 L612.7 556.6 L613.2 560.9 L613.7 562.4 L614.2 557.0 L614.7 556.6 L615.2 560.3 L615.7 551.8 L616.2 548.2 L616.7 556.8 L617.2 550.8 L617.7 543.7 L618.2 548.6 L618.7 549.3 L619.2 544.7 L619.7 542.6 L620.2 549.7 L620.7 553.1 L621.2 546.2 L621.7 543.1 L622.2 548.5 L622.7 550.6 L623.2 546.4 L623.7 550.9 L624.2 553.3 L624.7 547.1 L625.2 543.7 L625.7 549.3 L626.2 548.3 L626.7 552.3 L627.2 540.0 L627.7 543.3 L628.2 542.0 L628.7 537.4 L629.2 547.5 L629.7 549.6 L630.2 543.6 L630.7 554.9 L631.2 552.5 L631.7 551.7 L632.2 550.9 L632.7 554.3 L633.2 543.0 L633.7 552.8 L634.2 552.9 L634.7 541.2 L635.2 552.0 L635.7 549.3 L636.2 555.3 L636.7 549.3 L637.2 552.1 L637.7 554.4 L638.2 548.2 L638.7 553.3 L639.2 547.7 L639.7 548.4 L640.2 541.7 L640.7 547.9 L641.2 543.6 L641.7 537.9 L642.2 541.2 L642.7 546.1 L643.2 550.0 L643.7 534.2 L644.2 547.9 L644.7 546.3 L645.2 544.0 L645.7 540.5 L646.2 553.1 L646.7 540.8 L647.2 550.8 L647.7 555.3 L648.2 541.2 L648.7 548.5 L649.2 544.2 L649.7 553.1 L650.2 559.9 L650.7 562.9 L651.2 543.9 L651.7 550.5 L652.2 557.4 L652.7 563.1 L653.2 557.8 L653.7 552.5 L654.2 559.1 L654.7 558.4 L655.2 558.0 L655.7 555.6 L656.2 561.6 L656.7 562.1 L657.2 561.3 L657.7 561.1 L658.2 555.8 L658.7 559.9 L659.2 569.4 L659.7 562.8 L660.2 556.5 L660.7 571.3 L661.2 567.6 L661.7 576.0 L662.2 565.6 L662.7 563.0 L663.2 558.2 L663.7 572.4 L664.2 579.0 L664.7 561.5 L665.2 563.0 L665.7 570.3 L666.2 563.3 L666.7 566.7 L667.2 567.3 L667.7 570.9 L668.2 576.5 L668.7 571.7 L669.2 576.8 L669.7 570.5 L670.2 576.3 L670.7 567.5 L671.2 573.7 L671.7 587.2 L672.2 583.7 L672.7 591.6 L673.2 594.1 L673.7 600.1 L674.2 600.9 L674.7 604.1 L675.2 602.0 L675.7 602.2 L676.2 604.5 L676.7 608.1 L677.2 608.3 L677.7 612.5 L678.2 616.5 L678.7 619.8 L679.2 620.4 L679.7 619.0 L680.2 628.3 L680.7 633.1 L681.2 639.1 L681.7 641.5 L682.2 642.5 L682.7 646.0 L683.2 654.2 L683.7 650.4 L684.2 651.9 L684.7 651.7 L685.2 644.2 L685.7 645.9 L686.2 644.9 L686.7 644.0 L687.2 642.9 L687.7 641.2 L688.2 640.2 L688.7 635.3 L689.2 637.2 L689.7 634.9 L690.2 636.2 L690.7 634.7 L691.2 637.1 L691.7 637.2 L692.2 635.9 L692.7 635.7 L693.2 635.0 L693.7 633.7 L694.2 634.0 L694.7 633.0 L695.2 634.7 L695.7 633.6 L696.2 634.4 L696.7 629.8 L697.2 634.5 L697.7 630.6 L698.2 630.6 L698.7 631.4 L699.2 630.5 L699.7 632.2 L700.2 630.1 L700.7 629.0 L701.2 629.3 L701.7 634.0 L702.2 631.1 L702.7 628.4 L703.2 630.8 L703.7 627.4 L704.2 634.9 L704.7 627.4 L705.2 631.8 L705.7 632.0 L706.2 627.4 L706.7 631.3 L707.2 632.9 L707.7 631.6 L708.2 631.1 L708.7 632.7 L709.2 631.0 L709.7 631.5 L710.2 630.5 L710.7 632.6 L711.2 629.2 L711.7 633.5 L712.2 630.8 L712.7 629.5 L713.2 632.9 L713.7 636.0 L714.2 634.3 L714.7 630.9 L715.2 633.2 L715.7 630.1 L716.2 630.4 L716.7 630.2 L717.2 624.4 L717.7 629.6 L718.2 626.5 L718.7 626.7 L719.2 624.5 L719.7 624.0 L720.2 625.1 L720.7 629.1 L721.2 630.9 L721.7 627.1 L722.2 629.6 L722.7 626.6 L723.2 622.8 L723.7 627.1 L724.2 627.8 L724.7 625.7 L725.2 627.2 L725.7 627.5 L726.2 624.0 L726.7 622.5 L727.2 625.3 L727.7 625.2 L728.2 624.8 L728.7 628.0 L729.2 629.6 L729.7 624.7 L730.2 627.4 L730.7 628.3 L731.2 627.9 L731.7 629.2 L732.2 626.3 L732.7 629.1 L733.2 632.3 L733.7 629.8 L734.2 626.7 L734.7 629.6 L735.2 631.1 L735.7 629.2 L736.2 627.1 L736.7 631.6 L737.2 625.1 L737.7 628.6 L738.2 627.1 L738.7 624.0 L739.2 629.0 L739.7 626.8 L740.2 623.0 L740.7 626.5 L741.2 623.9 L741.7 620.4 L742.2 623.0 L742.7 624.9 L743.2 625.5 L743.7 624.1 L744.2 623.6 L744.7 624.3 L745.2 622.5 L745.7 625.5 L746.2 623.1 L746.7 623.2 L747.2 623.8 L747.7 619.8 L748.2 620.3 L748.7 625.3 L749.2 622.5 L749.7 621.1 L750.2 622.4 L750.7 620.7 L751.2 622.4 L751.7 619.9 L752.2 622.3 L752.7 618.1 L753.2 624.7 L753.7 620.7 L754.2 618.3 L754.7 621.4 L755.2 621.1 L755.7 622.2 L756.2 619.0 L756.7 622.3 L757.2 629.3 L757.7 617.8 L758.2 621.2 L758.7 619.6 L759.2 620.6 L759.7 616.6 L760.2 618.3 L760.7 622.3 L761.2 621.7 L761.7 626.0 L762.2 621.0 L762.7 623.3 L763.2 630.3 L763.7 622.9 L764.2 623.0 L764.7 625.4 L765.2 625.7 L765.7 627.9 L766.2 626.3 L766.7 624.4 L767.2 626.8 L767.7 632.4 L768.2 629.6 L768.7 620.6 L769.2 626.7 L769.7 625.6 L770.2 629.1 L770.7 627.6 L771.2 632.7 L771.7 630.9 L772.2 631.2 L772.7 630.0 L773.2 630.0 L773.7 630.9 L774.2 633.4 L774.7 631.9 L775.2 629.6 L775.7 633.1 L776.2 630.4 L776.7 629.9 L777.2 628.1 L777.7 628.6 L778.2 628.1 L778.7 623.0 L779.2 631.4 L779.7 630.4 L780.2 628.9 L780.7 631.9 L781.2 630.6 L781.7 630.1 L782.2 623.6 L782.7 628.4 L783.2 630.1 L783.7 632.3 L784.2 632.6 L784.7 631.4 L785.2 625.2 L785.7 622.8 L786.2 628.9 L786.7 627.5 L787.2 629.5 L787.7 626.9 L788.2 627.5 L788.7 622.8 L789.2 626.4 L789.7 623.8 L790.2 625.0 L790.7 624.6 L791.2 622.8 L791.7 623.0 L792.2 621.2 L792.7 622.2 L793.2 620.7 L793.7 617.8 L794.2 617.0 L794.7 621.8 L795.2 616.8 L795.7 619.1 L796.2 617.2 L796.7 614.8 L797.2 614.0 L797.7 615.7 L798.2 615.8 L798.7 616.2 L799.2 612.2 L799.7 614.3 L800.2 616.0 L800.7 620.4 L801.2 612.1 L801.7 618.9 L802.2 617.3 L802.7 619.9 L803.2 618.1 L803.7 620.1 L804.2 623.1 L804.7 620.7 L805.2 621.1 L805.7 621.2 L806.2 618.9 L806.7 622.2 L807.2 621.1 L807.7 620.1 L808.2 622.4 L808.7 622.4 L809.2 625.1 L809.7 624.0 L810.2 623.7 L810.7 629.8 L811.2 630.1 L811.7 632.2 L812.2 632.2 L812.7 631.9 L813.2 632.0 L813.7 632.3 L814.2 634.8 L814.7 632.6 L815.2 629.1 L815.7 632.2 L816.2 629.1 L816.7 632.7 L817.2 629.7 L817.7 629.8 L818.2 632.5 L818.7 631.0 L819.2 626.5 L819.7 630.9 L820.2 633.1 L820.7 623.9 L821.2 630.2 L821.7 623.5 L822.2 622.9 L822.7 622.4 L823.2 618.8 L823.7 624.6 L824.2 622.5 L824.7 619.6 L825.2 620.5 L825.7 617.4 L826.2 619.9 L826.7 622.7 L827.2 616.2 L827.7 619.0 L828.2 620.0 L828.7 621.6 L829.2 622.2 L829.7 617.7 L830.2 617.5 L830.7 620.8 L831.2 619.6 L831.7 620.5 L832.2 624.4 L832.7 626.8 L833.2 624.5 L833.7 623.9 L834.2 626.3 L834.7 621.4 L835.2 626.0 L835.7 624.0 L836.2 631.6 L836.7 627.6 L837.2 626.2 L837.7 625.4 L838.2 620.0 L838.7 627.5 L839.2 629.8 L839.7 624.6 L840.2 628.2 L840.7 628.6 L841.2 623.2 L841.7 628.2 L842.2 628.3 L842.7 625.3 L843.2 624.0 L843.7 625.2 L844.2 619.1 L844.7 621.7 L845.2 623.1 L845.7 617.2 L846.2 621.3 L846.7 617.1 L847.2 613.0 L847.7 617.5 L848.2 616.0 L848.7 619.1 L849.2 615.8 L849.7 621.0 L850.2 617.2 L850.7 619.7 L851.2 617.9 L851.7 618.8 L852.2 622.2 L852.7 620.4 L853.2 619.3 L853.7 617.5 L854.2 623.2 L854.7 622.7 L855.2 620.6 L855.7 622.1 L856.2 619.6 L856.7 619.8 L857.2 620.6 L857.7 623.4 L858.2 623.6 L858.7 621.5 L859.2 625.1 L859.7 625.2 L860.2 623.9 L860.7 625.8 L861.2 622.6 L861.7 622.7 L862.2 624.0 L862.7 623.3 L863.2 625.5 L863.7 621.3 L864.2 627.8 L864.7 623.2 L865.2 624.9 L865.7 622.8 L866.2 627.8 L866.7 630.0 L867.2 630.4 L867.7 630.6 L868.2 625.9 L868.7 628.3 L869.2 629.3 L869.7 628.0 L870.2 632.3 L870.7 630.1 L871.2 629.2 L871.7 630.1 L872.2 626.4 L872.7 626.1 L873.2 625.8 L873.7 628.5 L874.2 627.8 L874.7 627.8 L875.2 628.3 L875.7 622.5 L876.2 623.8 L876.7 625.1 L877.2 621.5 L877.7 623.1 L878.2 626.3 L878.7 626.0 L879.2 625.5 L879.7 622.7 L880.2 621.8 L880.7 624.6 L881.2 621.1 L881.7 622.5 L882.2 624.4 L882.7 620.4 L883.2 619.7 L883.7 620.8 L884.2 621.9 L884.7 621.6 L885.2 620.7 L885.7 621.2 L886.2 616.1 L886.7 617.3 L887.2 619.4 L887.7 616.6 L888.2 615.3 L888.7 615.4 L889.2 615.5 L889.7 616.7 L890.2 614.2 L890.7 616.6 L891.2 619.7 L891.7 615.1 L892.2 617.9 L892.7 615.4 L893.2 611.9 L893.7 613.9 L894.2 612.6 L894.7 617.7 L895.2 614.3 L895.7 621.1 L896.2 620.8 L896.7 615.9 L897.2 623.1 L897.7 626.1 L898.2 621.7 L898.7 626.7 L899.2 621.4 L899.7 626.7 L900.2 623.0 L900.7 628.7 L901.2 623.9 L901.7 621.4 L902.2 628.0 L902.7 631.8 L903.2 624.6 L903.7 627.7 L904.2 625.8 L904.7 624.5 L905.2 626.5 L905.7 628.2 L906.2 621.4 L906.7 624.9 L907.2 623.9 L907.7 619.1 L908.2 625.0 L908.7 625.2 L909.2 618.6 L909.7 623.9 L910.2 619.7 L910.7 618.5 L911.2 621.6 L911.7 618.1 L912.2 617.9 L912.7 619.7 L913.2 618.7 L913.7 617.3 L914.2 611.5 L914.7 610.7 L915.2 616.7 L915.7 611.8 L916.2 614.2 L916.7 611.4 L917.2 613.3 L917.7 611.2 L918.2 617.8 L918.7 612.1 L919.2 614.5 L919.7 614.5 L920.2 617.7 L920.7 611.5 L921.2 614.3 L921.7 613.6 L922.2 614.9 L922.7 614.4 L923.2 611.7 L923.7 613.0 L924.2 611.8 L924.7 615.2 L925.2 615.0 L925.7 614.7 L926.2 617.1 L926.7 619.1 L927.2 624.4 L927.7 619.5 L928.2 622.6 L928.7 624.9 L929.2 615.9 L929.7 615.7 L930.2 615.9 L930.7 617.4 L931.2 622.2 L931.7 616.6 L932.2 617.7 L932.7 613.8 L933.2 607.9 L933.7 607.8 L934.2 615.0 L934.7 613.7 L935.2 610.8 L935.7 616.3 L936.2 610.5 L936.7 616.7 L937.2 617.7 L937.7 613.3 L938.2 612.8 L938.7 617.5 L939.2 613.3 L939.7 617.7 L940.2 612.4 L940.7 615.8 L941.2 613.2 L941.7 610.6 L942.2 608.4 L942.7 609.6 L943.2 604.0 L943.7 606.7 L944.2 605.4 L944.7 606.7 L945.2 601.4 L945.7 607.0 L946.2 601.6 L946.7 599.4 L947.2 605.7 L947.7 606.9 L948.2 603.2 L948.7 602.3 L949.2 605.0 L949.7 603.6 L950.2 605.0 L950.7 609.9 L951.2 607.7 L951.7 607.6 L952.2 609.1 L952.7 609.2 L953.2 612.2 L953.7 613.5 L954.2 611.7 L954.7 613.7 L955.2 619.7 L955.7 616.1 L956.2 615.5 L956.7 621.1 L957.2 617.5 L957.7 613.7 L958.2 615.7 L958.7 610.3 L959.2 609.2 L959.7 609.2 L960.2 606.4 L960.7 603.2 L961.2 601.8 L961.7 600.0 L962.2 602.0 L962.7 595.9 L963.2 595.9 L963.7 601.3 L964.2 595.1 L964.7 599.2 L965.2 598.4 L965.7 594.9 L966.2 591.9 L966.7 595.7 L967.2 595.9 L967.7 596.5 L968.2 594.3 L968.7 596.9 L969.2 597.2 L969.7 591.6 L970.2 597.4 L970.7 594.5 L971.2 593.0 L971.7 593.7 L972.2 598.6 L972.7 596.4 L973.2 590.0 L973.7 594.1 L974.2 593.5 L974.7 593.2 L975.2 592.3 L975.7 589.9 L976.2 594.6 L976.7 590.3 L977.2 590.8 L977.7 588.8 L978.2 587.1 L978.7 589.3 L979.2 587.1 L979.7 583.3 L980.2 581.4 L980.7 581.1 L981.2 583.0 L981.7 579.9 L982.2 578.9 L982.7 577.0 L983.2 576.8 L983.7 577.6 L984.2 572.9 L984.7 580.4 L985.2 576.0 L985.7 578.9 L986.2 585.3 L986.7 584.9 L987.2 586.5 L987.7 585.0 L988.2 581.1 L988.7 583.3 L989.2 583.7 L989.7 577.1 L990.2 580.5 L990.7 572.9 L991.2 572.2 L991.7 573.4 L992.2 570.3 L992.7 570.4 L993.2 564.7 L993.7 561.1 L994.2 556.2 L994.7 555.0 L995.2 555.0 L995.7 554.0 L996.2 557.3 L996.7 554.9 L997.2 551.5 L997.7 561.0 L998.2 553.7 L998.7 556.2 L999.2 565.1 L999.7 568.1 L1000.2 565.6 L1000.7 567.6 L1001.2 571.4 L1001.7 579.0 L1002.2 578.4 L1002.7 577.6 L1003.2 575.2 L1003.7 573.8 L1004.2 564.4 L1004.7 562.6 L1005.2 559.3 L1005.7 570.9 L1006.2 573.7 L1006.7 575.2 L1007.2 576.3 L1007.7 581.4 L1008.2 577.0 L1008.7 582.7 L1009.2 579.6 L1009.7 580.3 L1010.2 582.3 L1010.7 583.2 L1011.2 585.7 L1011.7 586.3 L1012.2 586.0 L1012.7 583.9 L1013.2 588.1 L1013.7 586.9 L1014.2 590.5 L1014.7 583.9 L1015.2 578.1 L1015.7 581.5 L1016.2 585.6 L1016.7 579.9 L1017.2 576.6 L1017.7 577.3 L1018.2 574.7 L1018.7 573.4 L1019.2 572.9 L1019.7 576.0 L1020.2 577.9 L1020.7 577.9 L1021.2 578.5 L1021.7 582.8 L1022.2 586.3 L1022.7 587.7 L1023.2 589.4 L1023.7 591.3 L1024.2 598.2 L1024.7 594.9 L1025.2 596.9 L1025.7 598.2 L1026.2 593.0 L1026.7 592.8 L1027.2 593.7 L1027.7 594.3 L1028.2 590.5 L1028.7 589.9 L1029.2 587.1 L1029.7 581.4 L1030.2 583.7 L1030.7 577.9 L1031.2 571.6 L1031.7 580.0 L1032.2 581.3 L1032.7 587.6 L1033.2 594.5 L1033.7 595.9 L1034.2 598.6 L1034.7 591.1 L1035.2 593.1 L1035.7 592.0 L1036.2 592.1 L1036.7 590.0 L1037.2 587.3 L1037.7 585.8 L1038.2 584.3 L1038.7 585.8 L1039.2 580.5 L1039.7 581.9 L1040.2 579.3 L1040.7 579.0 L1041.2 576.5 L1041.7 580.6 L1042.2 573.2 L1042.7 575.5 L1043.2 576.5 L1043.7 578.0 L1044.2 578.5 L1044.7 579.2 L1045.2 581.3 L1045.7 576.7 L1046.2 581.2 L1046.7 579.4 L1047.2 583.8 L1047.7 581.8 L1048.2 583.7 L1048.7 586.0 L1049.2 589.9 L1049.7 588.5 L1050.2 588.5 L1050.7 591.5" fill="none" stroke="#fdae69" stroke-opacity="0.9" stroke-width="1.1" stroke-linejoin="round" clip-path="url(#clipd)"/>
<path d="M605.7 409.0 L606.2 422.6 L606.7 434.6 L607.2 449.4 L607.7 469.4 L608.2 482.3 L608.7 494.7 L609.2 494.2 L609.7 498.4 L610.2 503.1 L610.7 501.8 L611.2 505.1 L611.7 498.6 L612.2 506.7 L612.7 503.5 L613.2 513.4 L613.7 510.6 L614.2 511.1 L614.7 507.8 L615.2 510.0 L615.7 510.2 L616.2 506.9 L616.7 506.9 L617.2 508.5 L617.7 507.2 L618.2 507.2 L618.7 508.8 L619.2 507.4 L619.7 513.0 L620.2 505.1 L620.7 514.0 L621.2 509.1 L621.7 509.6 L622.2 507.0 L622.7 511.1 L623.2 510.8 L623.7 512.7 L624.2 510.2 L624.7 512.4 L625.2 518.5 L625.7 513.7 L626.2 510.6 L626.7 516.0 L627.2 512.6 L627.7 515.1 L628.2 515.8 L628.7 513.7 L629.2 509.9 L629.7 516.7 L630.2 521.4 L630.7 519.8 L631.2 524.2 L631.7 528.0 L632.2 524.4 L632.7 531.4 L633.2 533.7 L633.7 532.6 L634.2 534.1 L634.7 535.0 L635.2 539.8 L635.7 533.4 L636.2 533.6 L636.7 536.8 L637.2 532.6 L637.7 531.6 L638.2 535.0 L638.7 540.4 L639.2 542.2 L639.7 536.8 L640.2 536.6 L640.7 542.4 L641.2 543.4 L641.7 544.6 L642.2 547.5 L642.7 550.2 L643.2 547.8 L643.7 549.6 L644.2 544.4 L644.7 544.9 L645.2 550.2 L645.7 552.5 L646.2 553.3 L646.7 553.2 L647.2 554.4 L647.7 555.2 L648.2 547.2 L648.7 551.2 L649.2 555.9 L649.7 557.0 L650.2 550.9 L650.7 560.1 L651.2 555.2 L651.7 556.5 L652.2 558.8 L652.7 561.0 L653.2 554.5 L653.7 562.9 L654.2 560.6 L654.7 558.2 L655.2 559.9 L655.7 553.2 L656.2 558.0 L656.7 560.1 L657.2 557.3 L657.7 557.8 L658.2 557.9 L658.7 557.9 L659.2 560.6 L659.7 556.6 L660.2 555.3 L660.7 557.2 L661.2 561.6 L661.7 553.5 L662.2 555.9 L662.7 549.9 L663.2 559.6 L663.7 558.2 L664.2 561.2 L664.7 557.7 L665.2 555.8 L665.7 563.1 L666.2 563.5 L666.7 559.4 L667.2 558.7 L667.7 566.3 L668.2 565.7 L668.7 576.5 L669.2 568.2 L669.7 570.7 L670.2 574.1 L670.7 571.4 L671.2 575.9 L671.7 585.6 L672.2 582.6 L672.7 583.7 L673.2 583.8 L673.7 591.7 L674.2 594.4 L674.7 595.3 L675.2 595.2 L675.7 598.1 L676.2 599.1 L676.7 596.5 L677.2 600.9 L677.7 593.3 L678.2 596.8 L678.7 600.4 L679.2 602.6 L679.7 601.9 L680.2 609.3 L680.7 614.6 L681.2 615.9 L681.7 618.2 L682.2 623.1 L682.7 625.0 L683.2 622.8 L683.7 627.1 L684.2 632.6 L684.7 626.1 L685.2 630.8 L685.7 630.4 L686.2 629.6 L686.7 630.1 L687.2 634.3 L687.7 635.0 L688.2 635.0 L688.7 630.0 L689.2 633.7 L689.7 635.1 L690.2 636.0 L690.7 633.0 L691.2 630.9 L691.7 629.0 L692.2 625.6 L692.7 617.9 L693.2 617.9 L693.7 612.9 L694.2 605.1 L694.7 605.6 L695.2 616.2 L695.7 605.4 L696.2 601.0 L696.7 605.3 L697.2 610.9 L697.7 605.2 L698.2 605.9 L698.7 602.9 L699.2 602.5 L699.7 605.9 L700.2 603.8 L700.7 600.3 L701.2 602.8 L701.7 604.6 L702.2 601.4 L702.7 603.6 L703.2 604.4 L703.7 602.7 L704.2 609.5 L704.7 606.7 L705.2 606.4 L705.7 604.3 L706.2 606.9 L706.7 616.7 L707.2 609.7 L707.7 615.6 L708.2 613.4 L708.7 616.1 L709.2 616.3 L709.7 612.0 L710.2 613.2 L710.7 614.2 L711.2 614.1 L711.7 613.3 L712.2 612.0 L712.7 614.4 L713.2 616.3 L713.7 613.0 L714.2 608.4 L714.7 611.3 L715.2 609.3 L715.7 610.0 L716.2 613.2 L716.7 605.9 L717.2 605.6 L717.7 602.1 L718.2 603.2 L718.7 601.6 L719.2 607.5 L719.7 603.4 L720.2 600.4 L720.7 607.4 L721.2 596.9 L721.7 603.0 L722.2 602.8 L722.7 601.0 L723.2 597.6 L723.7 597.1 L724.2 595.7 L724.7 598.8 L725.2 588.7 L725.7 594.1 L726.2 595.7 L726.7 592.8 L727.2 590.2 L727.7 595.6 L728.2 595.0 L728.7 600.7 L729.2 603.7 L729.7 600.5 L730.2 595.3 L730.7 601.2 L731.2 599.7 L731.7 604.6 L732.2 607.6 L732.7 603.1 L733.2 607.5 L733.7 604.8 L734.2 601.4 L734.7 595.9 L735.2 598.8 L735.7 593.6 L736.2 600.9 L736.7 597.6 L737.2 601.3 L737.7 597.3 L738.2 590.3 L738.7 598.1 L739.2 598.6 L739.7 600.7 L740.2 592.3 L740.7 591.9 L741.2 594.2 L741.7 590.3 L742.2 588.5 L742.7 588.9 L743.2 599.6 L743.7 588.8 L744.2 586.9 L744.7 587.1 L745.2 587.1 L745.7 589.8 L746.2 587.5 L746.7 585.7 L747.2 582.0 L747.7 581.0 L748.2 577.1 L748.7 573.0 L749.2 582.4 L749.7 574.0 L750.2 577.6 L750.7 573.1 L751.2 573.3 L751.7 572.4 L752.2 568.3 L752.7 571.8 L753.2 572.9 L753.7 577.0 L754.2 579.2 L754.7 584.2 L755.2 585.1 L755.7 587.9 L756.2 585.4 L756.7 593.7 L757.2 602.5 L757.7 600.8 L758.2 605.6 L758.7 604.5 L759.2 605.4 L759.7 612.8 L760.2 606.2 L760.7 608.0 L761.2 603.4 L761.7 599.1 L762.2 591.3 L762.7 596.2 L763.2 589.4 L763.7 586.4 L764.2 596.2 L764.7 593.6 L765.2 592.3 L765.7 589.5 L766.2 588.5 L766.7 588.9 L767.2 587.4 L767.7 586.3 L768.2 587.5 L768.7 576.9 L769.2 586.5 L769.7 581.0 L770.2 584.7 L770.7 585.6 L771.2 579.1 L771.7 583.6 L772.2 583.1 L772.7 578.2 L773.2 578.5 L773.7 580.2 L774.2 572.7 L774.7 578.2 L775.2 579.9 L775.7 577.9 L776.2 574.1 L776.7 578.1 L777.2 583.8 L777.7 582.9 L778.2 578.2 L778.7 575.9 L779.2 577.9 L779.7 577.4 L780.2 575.4 L780.7 575.6 L781.2 578.4 L781.7 580.0 L782.2 570.3 L782.7 580.9 L783.2 578.8 L783.7 582.4 L784.2 579.4 L784.7 581.4 L785.2 585.3 L785.7 571.8 L786.2 586.3 L786.7 582.4 L787.2 576.8 L787.7 574.9 L788.2 584.2 L788.7 579.4 L789.2 585.1 L789.7 582.1 L790.2 580.5 L790.7 583.3 L791.2 580.1 L791.7 581.0 L792.2 579.9 L792.7 577.4 L793.2 578.0 L793.7 576.9 L794.2 569.2 L794.7 572.7 L795.2 574.0 L795.7 574.6 L796.2 571.9 L796.7 576.0 L797.2 579.8 L797.7 580.6 L798.2 585.9 L798.7 580.3 L799.2 581.8 L799.7 582.4 L800.2 584.1 L800.7 583.6 L801.2 580.4 L801.7 587.8 L802.2 590.7 L802.7 591.8 L803.2 584.9 L803.7 585.5 L804.2 589.8 L804.7 582.0 L805.2 581.5 L805.7 577.8 L806.2 579.5 L806.7 577.4 L807.2 579.7 L807.7 571.8 L808.2 572.0 L808.7 568.3 L809.2 572.0 L809.7 572.0 L810.2 574.1 L810.7 572.2 L811.2 581.0 L811.7 575.1 L812.2 580.2 L812.7 576.8 L813.2 583.1 L813.7 587.1 L814.2 579.2 L814.7 582.3 L815.2 580.3 L815.7 580.9 L816.2 580.5 L816.7 576.7 L817.2 577.2 L817.7 575.3 L818.2 573.9 L818.7 572.1 L819.2 577.8 L819.7 571.0 L820.2 574.1 L820.7 572.5 L821.2 566.4 L821.7 571.5 L822.2 564.5 L822.7 568.1 L823.2 569.7 L823.7 562.1 L824.2 560.4 L824.7 559.5 L825.2 568.3 L825.7 559.5 L826.2 556.3 L826.7 562.3 L827.2 558.9 L827.7 559.0 L828.2 556.1 L828.7 551.9 L829.2 556.2 L829.7 554.9 L830.2 552.6 L830.7 553.6 L831.2 554.2 L831.7 561.6 L832.2 563.0 L832.7 563.7 L833.2 562.2 L833.7 561.5 L834.2 567.6 L834.7 569.4 L835.2 572.3 L835.7 570.9 L836.2 572.2 L836.7 575.1 L837.2 571.7 L837.7 572.5 L838.2 577.7 L838.7 572.4 L839.2 576.7 L839.7 579.9 L840.2 578.7 L840.7 579.6 L841.2 575.3 L841.7 578.5 L842.2 578.1 L842.7 581.0 L843.2 580.6 L843.7 579.6 L844.2 585.4 L844.7 581.3 L845.2 578.6 L845.7 577.8 L846.2 579.8 L846.7 578.6 L847.2 585.4 L847.7 580.7 L848.2 576.4 L848.7 574.0 L849.2 571.5 L849.7 572.6 L850.2 576.2 L850.7 573.6 L851.2 570.1 L851.7 570.6 L852.2 564.5 L852.7 572.6 L853.2 569.6 L853.7 574.9 L854.2 570.2 L854.7 569.5 L855.2 571.7 L855.7 569.2 L856.2 575.3 L856.7 572.4 L857.2 572.5 L857.7 572.3 L858.2 570.0 L858.7 572.3 L859.2 571.4 L859.7 576.2 L860.2 570.9 L860.7 571.4 L861.2 568.6 L861.7 568.5 L862.2 568.3 L862.7 573.3 L863.2 569.5 L863.7 572.3 L864.2 568.7 L864.7 568.3 L865.2 563.2 L865.7 570.8 L866.2 573.7 L866.7 565.9 L867.2 570.1 L867.7 567.4 L868.2 561.7 L868.7 565.2 L869.2 559.4 L869.7 559.9 L870.2 563.7 L870.7 559.4 L871.2 555.9 L871.7 563.9 L872.2 556.5 L872.7 559.8 L873.2 559.2 L873.7 560.1 L874.2 558.5 L874.7 556.4 L875.2 567.3 L875.7 559.1 L876.2 559.8 L876.7 556.1 L877.2 564.6 L877.7 568.6 L878.2 569.8 L878.7 574.5 L879.2 571.6 L879.7 568.7 L880.2 568.2 L880.7 572.9 L881.2 569.0 L881.7 570.9 L882.2 568.3 L882.7 572.2 L883.2 578.6 L883.7 572.3 L884.2 573.5 L884.7 564.7 L885.2 576.0 L885.7 572.9 L886.2 575.8 L886.7 571.8 L887.2 568.3 L887.7 566.0 L888.2 571.3 L888.7 569.1 L889.2 566.0 L889.7 569.5 L890.2 568.1 L890.7 572.6 L891.2 569.3 L891.7 567.3 L892.2 571.1 L892.7 570.3 L893.2 576.9 L893.7 571.2 L894.2 567.9 L894.7 569.4 L895.2 566.5 L895.7 565.5 L896.2 562.9 L896.7 556.9 L897.2 557.6 L897.7 555.0 L898.2 550.6 L898.7 552.2 L899.2 554.2 L899.7 548.8 L900.2 549.7 L900.7 550.8 L901.2 551.5 L901.7 552.7 L902.2 546.3 L902.7 550.7 L903.2 551.4 L903.7 554.5 L904.2 548.9 L904.7 547.8 L905.2 546.4 L905.7 553.3 L906.2 556.2 L906.7 550.6 L907.2 554.5 L907.7 556.7 L908.2 557.0 L908.7 551.4 L909.2 553.4 L909.7 550.0 L910.2 546.2 L910.7 548.3 L911.2 547.1 L911.7 541.5 L912.2 544.6 L912.7 547.9 L913.2 535.7 L913.7 541.2 L914.2 541.5 L914.7 539.5 L915.2 541.0 L915.7 540.1 L916.2 546.1 L916.7 539.7 L917.2 542.6 L917.7 538.0 L918.2 545.5 L918.7 546.5 L919.2 541.3 L919.7 543.4 L920.2 546.6 L920.7 543.0 L921.2 539.6 L921.7 534.5 L922.2 542.1 L922.7 546.0 L923.2 537.6 L923.7 539.3 L924.2 537.7 L924.7 535.1 L925.2 534.5 L925.7 532.8 L926.2 528.4 L926.7 536.9 L927.2 535.9 L927.7 526.7 L928.2 529.2 L928.7 522.4 L929.2 527.2 L929.7 533.9 L930.2 529.6 L930.7 532.0 L931.2 539.8 L931.7 535.6 L932.2 548.3 L932.7 544.8 L933.2 543.2 L933.7 544.5 L934.2 539.4 L934.7 539.3 L935.2 544.3 L935.7 544.1 L936.2 541.7 L936.7 541.9 L937.2 541.5 L937.7 548.6 L938.2 540.7 L938.7 544.0 L939.2 546.4 L939.7 544.5 L940.2 546.5 L940.7 548.4 L941.2 555.6 L941.7 559.2 L942.2 555.9 L942.7 550.7 L943.2 554.3 L943.7 556.2 L944.2 556.7 L944.7 557.0 L945.2 560.3" fill="none" stroke="#f97262" stroke-opacity="0.9" stroke-width="1.1" stroke-linejoin="round" clip-path="url(#clipd)"/>
<rect x="583" y="394" width="2" height="272" fill="#e2e2e2"/>
<rect x="1073" y="394" width="1" height="272" fill="#8c8c8c"/>
<rect x="583" y="394" width="491" height="1" fill="#9e9e9e"/>
<rect x="583" y="665" width="491" height="1" fill="#8a8a8a"/>
<line x1="606.1" y1="665.3" x2="606.1" y2="667.9" stroke="#707070" stroke-width="1"/>
<text x="606.1" y="680.7" font-size="16.4" text-anchor="middle" textLength="9.5" lengthAdjust="spacingAndGlyphs" fill="#111">0</text>
<line x1="693.9" y1="665.3" x2="693.9" y2="667.9" stroke="#707070" stroke-width="1"/>
<text x="693.9" y="680.7" font-size="16.4" text-anchor="middle" textLength="38.2" lengthAdjust="spacingAndGlyphs" fill="#111">1000</text>
<line x1="781.8" y1="665.3" x2="781.8" y2="667.9" stroke="#707070" stroke-width="1"/>
<text x="781.8" y="680.7" font-size="16.4" text-anchor="middle" textLength="38.2" lengthAdjust="spacingAndGlyphs" fill="#111">2000</text>
<line x1="869.6" y1="665.3" x2="869.6" y2="667.9" stroke="#707070" stroke-width="1"/>
<text x="869.6" y="680.7" font-size="16.4" text-anchor="middle" textLength="38.2" lengthAdjust="spacingAndGlyphs" fill="#111">3000</text>
<line x1="957.5" y1="665.3" x2="957.5" y2="667.9" stroke="#707070" stroke-width="1"/>
<text x="957.5" y="680.7" font-size="16.4" text-anchor="middle" textLength="38.2" lengthAdjust="spacingAndGlyphs" fill="#111">4000</text>
<line x1="1045.3" y1="665.3" x2="1045.3" y2="667.9" stroke="#707070" stroke-width="1"/>
<text x="1045.3" y="680.7" font-size="16.4" text-anchor="middle" textLength="38.2" lengthAdjust="spacingAndGlyphs" fill="#111">5000</text>
<line x1="581.0" y1="648.4" x2="584.0" y2="648.4" stroke="#707070" stroke-width="1"/>
<text x="578.7" y="653.9" font-size="16.4" text-anchor="end" textLength="38.2" lengthAdjust="spacingAndGlyphs" fill="#111">2000</text>
<line x1="581.0" y1="611.7" x2="584.0" y2="611.7" stroke="#707070" stroke-width="1"/>
<text x="578.7" y="617.2" font-size="16.4" text-anchor="end" textLength="38.2" lengthAdjust="spacingAndGlyphs" fill="#111">3000</text>
<line x1="581.0" y1="575.1" x2="584.0" y2="575.1" stroke="#707070" stroke-width="1"/>
<text x="578.7" y="580.6" font-size="16.4" text-anchor="end" textLength="38.2" lengthAdjust="spacingAndGlyphs" fill="#111">4000</text>
<line x1="581.0" y1="538.4" x2="584.0" y2="538.4" stroke="#707070" stroke-width="1"/>
<text x="578.7" y="543.9" font-size="16.4" text-anchor="end" textLength="38.2" lengthAdjust="spacingAndGlyphs" fill="#111">5000</text>
<line x1="581.0" y1="501.7" x2="584.0" y2="501.7" stroke="#707070" stroke-width="1"/>
<text x="578.7" y="507.2" font-size="16.4" text-anchor="end" textLength="38.2" lengthAdjust="spacingAndGlyphs" fill="#111">6000</text>
<line x1="581.0" y1="465.1" x2="584.0" y2="465.1" stroke="#707070" stroke-width="1"/>
<text x="578.7" y="470.6" font-size="16.4" text-anchor="end" textLength="38.2" lengthAdjust="spacingAndGlyphs" fill="#111">7000</text>
<line x1="581.0" y1="428.4" x2="584.0" y2="428.4" stroke="#707070" stroke-width="1"/>
<text x="578.7" y="433.9" font-size="16.4" text-anchor="end" textLength="38.2" lengthAdjust="spacingAndGlyphs" fill="#111">8000</text>
<text x="828.8" y="384.9" font-size="21.5" text-anchor="middle" font-weight="bold" textLength="284.0" lengthAdjust="spacingAndGlyphs" fill="#111">(d) Mean Response Length</text>
<text x="539.7" y="706.3" font-size="21.5" text-anchor="middle" font-weight="bold" textLength="145.5" lengthAdjust="spacingAndGlyphs" fill="#111">Training Steps</text>
<rect x="22.5" y="2.5" width="1036" height="33.5" rx="3.5" fill="#fff" fill-opacity="0.8" stroke="#e4e4e4" stroke-width="1"/>
<line x1="29.0" y1="18" x2="67.0" y2="18" stroke="#1f77b4" stroke-opacity="0.6" stroke-width="1.1"/>
<text x="80.0" y="24.6" font-size="22.8" text-anchor="start" textLength="216.5" lengthAdjust="spacingAndGlyphs" fill="#111">JustRL-DeepSeek-1.5B</text>
<line x1="333.0" y1="18" x2="371.5" y2="18" stroke="#fdae69" stroke-opacity="0.9" stroke-width="1.1"/>
<text x="385.6" y="24.6" font-size="22.8" text-anchor="start" textLength="193.5" lengthAdjust="spacingAndGlyphs" fill="#111">w/ Overlong Penalty</text>
<line x1="615.2" y1="18" x2="653.0" y2="18" stroke="#f97262" stroke-opacity="0.9" stroke-width="1.1"/>
<text x="667.8" y="24.6" font-size="22.8" text-anchor="start" textLength="384.5" lengthAdjust="spacingAndGlyphs" fill="#111">w/ Overlong Penalty and Robust Verifier</text>
</svg>
</body></html>
